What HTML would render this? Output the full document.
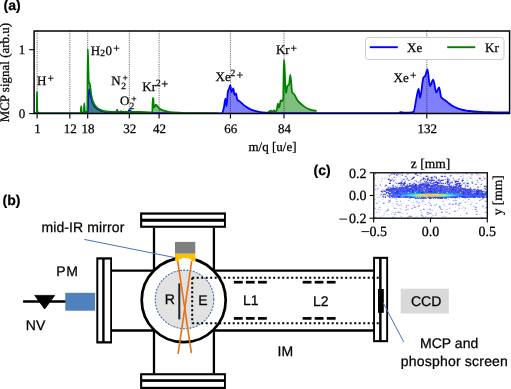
<!DOCTYPE html>
<html><head><meta charset="utf-8"><style>
html,body{margin:0;padding:0;background:#fff;width:511px;height:389px;overflow:hidden}
svg{display:block;will-change:transform;text-rendering:geometricPrecision}
text{stroke:#000;stroke-width:0.25px}
</style></head><body>
<svg width="511" height="389" viewBox="0 0 511 389">
<rect width="511" height="389" fill="#fff"/>
<text x="3.6" y="10.2" style="font-family:&quot;Liberation Sans&quot;,sans-serif;font-weight:bold;font-size:14px">(a)</text>
<text x="2.5" y="204.5" style="font-family:&quot;Liberation Sans&quot;,sans-serif;font-weight:bold;font-size:14px">(b)</text>
<text x="313.5" y="174.9" style="font-family:&quot;Liberation Sans&quot;,sans-serif;font-weight:bold;font-size:14px">(c)</text>
<clipPath id="ca"><rect x="34" y="31" width="475.6" height="82.6"/></clipPath>
<g clip-path="url(#ca)">
<path d="M34.00,113.6 L34.00,113.50 C51.33,113.50 68.67,113.50 86.00,113.50 C86.53,113.50 87.07,113.19 87.60,112.40 C87.87,112.00 88.13,97.86 88.40,95.00 C88.67,92.14 88.93,89.30 89.20,89.30 C89.47,89.30 89.73,90.93 90.00,92.00 C90.33,93.33 90.67,95.63 91.00,97.00 C91.33,98.37 91.67,99.42 92.00,100.50 C92.33,101.58 92.67,102.74 93.00,103.50 C93.67,105.02 94.33,106.23 95.00,107.00 C95.83,107.96 96.67,108.54 97.50,109.10 C98.33,109.66 99.17,110.17 100.00,110.50 C101.00,110.89 102.00,111.16 103.00,111.40 C104.00,111.64 105.00,111.89 106.00,112.00 C107.33,112.15 108.67,112.26 110.00,112.30 C111.67,112.35 113.33,112.40 115.00,112.40 C115.50,112.40 116.00,112.38 116.50,112.30 C116.70,112.27 116.90,109.80 117.10,109.80 C117.33,109.80 117.57,112.15 117.80,112.20 C118.53,112.36 119.27,112.40 120.00,112.40 C122.83,112.40 125.67,112.40 128.50,112.40 C128.70,112.40 128.90,109.80 129.10,109.80 C129.40,109.80 129.70,110.58 130.00,110.80 C130.67,111.28 131.33,111.60 132.00,111.80 C133.00,112.09 134.00,112.26 135.00,112.40 C136.67,112.63 138.33,112.82 140.00,112.90 C143.33,113.06 146.67,113.19 150.00,113.20 C174.00,113.28 198.00,113.30 222.00,113.30 C222.60,113.30 223.20,110.31 223.80,108.00 C224.37,105.82 224.93,98.60 225.50,98.60 C225.83,98.60 226.17,106.00 226.50,106.00 C227.00,106.00 227.50,92.60 228.00,91.00 C228.33,89.94 228.67,89.79 229.00,89.00 C229.43,87.98 229.87,85.20 230.30,85.20 C230.70,85.20 231.10,92.00 231.50,92.00 C232.10,92.00 232.70,88.50 233.30,88.50 C233.70,88.50 234.10,95.00 234.50,95.00 C235.00,95.00 235.50,93.50 236.00,93.50 C236.43,93.50 236.87,98.99 237.30,99.60 C238.20,100.86 239.10,100.88 240.00,101.60 C241.67,102.93 243.33,104.79 245.00,106.00 C246.67,107.21 248.33,108.34 250.00,109.10 C251.67,109.86 253.33,110.45 255.00,110.90 C257.33,111.54 259.67,112.17 262.00,112.40 C264.67,112.66 267.33,112.79 270.00,112.90 C273.33,113.04 276.67,113.20 280.00,113.20 C319.33,113.20 358.67,113.20 398.00,113.20 C398.83,113.20 399.67,112.10 400.50,112.10 C401.17,112.10 401.83,112.28 402.50,112.40 C403.00,112.49 403.50,112.70 404.00,112.70 C406.67,112.70 409.33,112.66 412.00,112.50 C412.57,112.47 413.13,112.05 413.70,111.50 C414.73,110.49 415.77,100.51 416.80,96.00 C417.40,93.38 418.00,88.90 418.60,88.90 C419.07,88.90 419.53,98.00 420.00,98.00 C421.17,98.00 422.33,79.25 423.50,77.50 C424.07,76.65 424.63,76.68 425.20,75.90 C425.97,74.84 426.73,69.30 427.50,69.30 C428.30,69.30 429.10,86.00 429.90,86.00 C431.00,86.00 432.10,79.70 433.20,79.70 C434.23,79.70 435.27,92.40 436.30,92.40 C437.23,92.40 438.17,87.40 439.10,87.40 C439.80,87.40 440.50,96.22 441.20,97.30 C441.80,98.23 442.40,98.54 443.00,99.00 C443.67,99.52 444.33,99.83 445.00,100.30 C446.00,101.00 447.00,101.82 448.00,102.60 C449.00,103.38 450.00,104.31 451.00,105.00 C452.00,105.69 453.00,106.27 454.00,106.80 C455.00,107.33 456.00,107.81 457.00,108.20 C458.00,108.59 459.00,108.90 460.00,109.20 C461.00,109.50 462.00,109.77 463.00,110.00 C464.00,110.23 465.00,110.44 466.00,110.60 C467.00,110.76 468.00,110.88 469.00,111.00 C470.67,111.19 472.33,111.37 474.00,111.50 C476.00,111.66 478.00,111.81 480.00,111.90 C483.33,112.04 486.67,112.12 490.00,112.20 C493.33,112.28 496.67,112.35 500.00,112.40 C503.20,112.44 506.40,112.47 509.60,112.50 L509.60,113.6 Z" fill="#0000ff" fill-opacity="0.5"/>
<path d="M34.00,113.6 L34.00,113.40 C34.92,113.40 35.83,113.40 36.75,113.40 C36.83,113.40 36.92,91.60 37.00,91.60 C37.08,91.60 37.17,110.06 37.25,110.50 C37.60,112.35 37.95,112.57 38.30,112.80 C38.87,113.17 39.43,113.40 40.00,113.40 C53.53,113.40 67.07,113.40 80.60,113.40 C80.80,113.40 81.00,106.10 81.20,106.10 C81.40,106.10 81.60,112.80 81.80,112.80 C82.43,112.80 83.07,112.80 83.70,112.80 C83.90,112.80 84.10,103.30 84.30,103.30 C84.50,103.30 84.70,111.90 84.90,111.90 C85.70,111.90 86.50,111.90 87.30,111.90 C87.47,111.90 87.63,49.10 87.80,49.10 C87.97,49.10 88.13,60.35 88.30,66.00 C88.47,71.65 88.63,83.00 88.80,83.00 C88.97,83.00 89.13,82.30 89.30,82.30 C89.60,82.30 89.90,84.32 90.20,86.00 C90.50,87.68 90.80,92.04 91.10,93.90 C91.40,95.76 91.70,97.00 92.00,98.20 C92.30,99.40 92.60,100.44 92.90,101.30 C93.27,102.36 93.63,103.32 94.00,104.00 C94.43,104.80 94.87,105.38 95.30,105.90 C96.03,106.79 96.77,107.53 97.50,108.10 C98.30,108.72 99.10,109.21 99.90,109.60 C100.93,110.10 101.97,110.52 103.00,110.80 C104.13,111.11 105.27,111.36 106.40,111.50 C107.93,111.69 109.47,111.82 111.00,111.90 C112.67,111.99 114.33,112.10 116.00,112.10 C116.33,112.10 116.67,110.90 117.00,110.90 C117.33,110.90 117.67,111.76 118.00,111.80 C118.67,111.87 119.33,111.90 120.00,111.90 C120.33,111.90 120.67,111.10 121.00,111.10 C121.33,111.10 121.67,111.89 122.00,111.90 C124.67,111.99 127.33,112.00 130.00,112.00 C133.33,112.00 136.67,112.00 140.00,112.00 C143.33,112.00 146.67,112.30 150.00,112.30 C150.77,112.30 151.53,112.30 152.30,112.30 C152.47,112.30 152.63,97.80 152.80,97.80 C152.97,97.80 153.13,98.33 153.30,99.00 C153.50,99.80 153.70,107.50 153.90,107.50 C154.60,107.50 155.30,104.70 156.00,104.70 C156.67,104.70 157.33,106.29 158.00,107.00 C158.67,107.71 159.33,108.59 160.00,109.00 C161.00,109.62 162.00,109.95 163.00,110.30 C164.00,110.65 165.00,110.94 166.00,111.20 C167.33,111.55 168.67,111.96 170.00,112.10 C173.33,112.44 176.67,112.54 180.00,112.70 C183.33,112.86 186.67,113.05 190.00,113.10 C199.33,113.23 208.67,113.23 218.00,113.30 L218.00,113.6 Z" fill="#008000" fill-opacity="0.5"/>
<path d="M268.00,113.6 L268.00,112.30 C269.00,111.77 270.00,110.70 271.00,110.70 C271.33,110.70 271.67,112.00 272.00,112.00 C272.67,112.00 273.33,110.50 274.00,110.50 C274.33,110.50 274.67,112.00 275.00,112.00 C275.60,112.00 276.20,111.18 276.80,110.00 C277.17,109.28 277.53,103.60 277.90,103.60 C278.33,103.60 278.77,107.50 279.20,107.50 C279.70,107.50 280.20,100.40 280.70,100.40 C281.13,100.40 281.57,101.20 282.00,101.20 C282.40,101.20 282.80,100.48 283.20,98.80 C283.43,97.82 283.67,59.80 283.90,59.80 C284.10,59.80 284.30,63.34 284.50,66.00 C284.93,71.76 285.37,93.20 285.80,93.20 C286.33,93.20 286.87,86.83 287.40,86.00 C287.93,85.17 288.47,85.41 289.00,84.50 C289.43,83.76 289.87,74.90 290.30,74.90 C290.93,74.90 291.57,91.38 292.20,92.40 C292.80,93.37 293.40,93.32 294.00,94.00 C295.33,95.52 296.67,99.60 298.00,101.20 C299.67,103.20 301.33,104.36 303.00,105.60 C304.67,106.84 306.33,108.05 308.00,108.80 C309.33,109.40 310.67,109.91 312.00,110.20 C313.53,110.53 315.07,110.67 316.60,110.90 L316.60,113.6 Z" fill="#008000" fill-opacity="0.5"/>
<line x1="37.1" y1="31" x2="37.1" y2="113.6" stroke="#000" stroke-width="1" stroke-opacity="0.6" stroke-dasharray="1.1,1.1"/>
<line x1="69.8" y1="31" x2="69.8" y2="113.6" stroke="#000" stroke-width="1" stroke-opacity="0.6" stroke-dasharray="1.1,1.1"/>
<line x1="87.7" y1="31" x2="87.7" y2="113.6" stroke="#000" stroke-width="1" stroke-opacity="0.6" stroke-dasharray="1.1,1.1"/>
<line x1="129.3" y1="31" x2="129.3" y2="113.6" stroke="#000" stroke-width="1" stroke-opacity="0.6" stroke-dasharray="1.1,1.1"/>
<line x1="159.1" y1="31" x2="159.1" y2="113.6" stroke="#000" stroke-width="1" stroke-opacity="0.6" stroke-dasharray="1.1,1.1"/>
<line x1="230.4" y1="31" x2="230.4" y2="113.6" stroke="#000" stroke-width="1" stroke-opacity="0.6" stroke-dasharray="1.1,1.1"/>
<line x1="284.0" y1="31" x2="284.0" y2="113.6" stroke="#000" stroke-width="1" stroke-opacity="0.6" stroke-dasharray="1.1,1.1"/>
<line x1="426.8" y1="31" x2="426.8" y2="113.6" stroke="#000" stroke-width="1" stroke-opacity="0.6" stroke-dasharray="1.1,1.1"/>
<path d="M34.00,113.50 C51.33,113.50 68.67,113.50 86.00,113.50 C86.53,113.50 87.07,113.19 87.60,112.40 C87.87,112.00 88.13,97.86 88.40,95.00 C88.67,92.14 88.93,89.30 89.20,89.30 C89.47,89.30 89.73,90.93 90.00,92.00 C90.33,93.33 90.67,95.63 91.00,97.00 C91.33,98.37 91.67,99.42 92.00,100.50 C92.33,101.58 92.67,102.74 93.00,103.50 C93.67,105.02 94.33,106.23 95.00,107.00 C95.83,107.96 96.67,108.54 97.50,109.10 C98.33,109.66 99.17,110.17 100.00,110.50 C101.00,110.89 102.00,111.16 103.00,111.40 C104.00,111.64 105.00,111.89 106.00,112.00 C107.33,112.15 108.67,112.26 110.00,112.30 C111.67,112.35 113.33,112.40 115.00,112.40 C115.50,112.40 116.00,112.38 116.50,112.30 C116.70,112.27 116.90,109.80 117.10,109.80 C117.33,109.80 117.57,112.15 117.80,112.20 C118.53,112.36 119.27,112.40 120.00,112.40 C122.83,112.40 125.67,112.40 128.50,112.40 C128.70,112.40 128.90,109.80 129.10,109.80 C129.40,109.80 129.70,110.58 130.00,110.80 C130.67,111.28 131.33,111.60 132.00,111.80 C133.00,112.09 134.00,112.26 135.00,112.40 C136.67,112.63 138.33,112.82 140.00,112.90 C143.33,113.06 146.67,113.19 150.00,113.20 C174.00,113.28 198.00,113.30 222.00,113.30 C222.60,113.30 223.20,110.31 223.80,108.00 C224.37,105.82 224.93,98.60 225.50,98.60 C225.83,98.60 226.17,106.00 226.50,106.00 C227.00,106.00 227.50,92.60 228.00,91.00 C228.33,89.94 228.67,89.79 229.00,89.00 C229.43,87.98 229.87,85.20 230.30,85.20 C230.70,85.20 231.10,92.00 231.50,92.00 C232.10,92.00 232.70,88.50 233.30,88.50 C233.70,88.50 234.10,95.00 234.50,95.00 C235.00,95.00 235.50,93.50 236.00,93.50 C236.43,93.50 236.87,98.99 237.30,99.60 C238.20,100.86 239.10,100.88 240.00,101.60 C241.67,102.93 243.33,104.79 245.00,106.00 C246.67,107.21 248.33,108.34 250.00,109.10 C251.67,109.86 253.33,110.45 255.00,110.90 C257.33,111.54 259.67,112.17 262.00,112.40 C264.67,112.66 267.33,112.79 270.00,112.90 C273.33,113.04 276.67,113.20 280.00,113.20 C319.33,113.20 358.67,113.20 398.00,113.20 C398.83,113.20 399.67,112.10 400.50,112.10 C401.17,112.10 401.83,112.28 402.50,112.40 C403.00,112.49 403.50,112.70 404.00,112.70 C406.67,112.70 409.33,112.66 412.00,112.50 C412.57,112.47 413.13,112.05 413.70,111.50 C414.73,110.49 415.77,100.51 416.80,96.00 C417.40,93.38 418.00,88.90 418.60,88.90 C419.07,88.90 419.53,98.00 420.00,98.00 C421.17,98.00 422.33,79.25 423.50,77.50 C424.07,76.65 424.63,76.68 425.20,75.90 C425.97,74.84 426.73,69.30 427.50,69.30 C428.30,69.30 429.10,86.00 429.90,86.00 C431.00,86.00 432.10,79.70 433.20,79.70 C434.23,79.70 435.27,92.40 436.30,92.40 C437.23,92.40 438.17,87.40 439.10,87.40 C439.80,87.40 440.50,96.22 441.20,97.30 C441.80,98.23 442.40,98.54 443.00,99.00 C443.67,99.52 444.33,99.83 445.00,100.30 C446.00,101.00 447.00,101.82 448.00,102.60 C449.00,103.38 450.00,104.31 451.00,105.00 C452.00,105.69 453.00,106.27 454.00,106.80 C455.00,107.33 456.00,107.81 457.00,108.20 C458.00,108.59 459.00,108.90 460.00,109.20 C461.00,109.50 462.00,109.77 463.00,110.00 C464.00,110.23 465.00,110.44 466.00,110.60 C467.00,110.76 468.00,110.88 469.00,111.00 C470.67,111.19 472.33,111.37 474.00,111.50 C476.00,111.66 478.00,111.81 480.00,111.90 C483.33,112.04 486.67,112.12 490.00,112.20 C493.33,112.28 496.67,112.35 500.00,112.40 C503.20,112.44 506.40,112.47 509.60,112.50" fill="none" stroke="#0000ff" stroke-width="1.8" stroke-linejoin="round"/>
<path d="M34.00,113.40 C34.92,113.40 35.83,113.40 36.75,113.40 C36.83,113.40 36.92,91.60 37.00,91.60 C37.08,91.60 37.17,110.06 37.25,110.50 C37.60,112.35 37.95,112.57 38.30,112.80 C38.87,113.17 39.43,113.40 40.00,113.40 C53.53,113.40 67.07,113.40 80.60,113.40 C80.80,113.40 81.00,106.10 81.20,106.10 C81.40,106.10 81.60,112.80 81.80,112.80 C82.43,112.80 83.07,112.80 83.70,112.80 C83.90,112.80 84.10,103.30 84.30,103.30 C84.50,103.30 84.70,111.90 84.90,111.90 C85.70,111.90 86.50,111.90 87.30,111.90 C87.47,111.90 87.63,49.10 87.80,49.10 C87.97,49.10 88.13,60.35 88.30,66.00 C88.47,71.65 88.63,83.00 88.80,83.00 C88.97,83.00 89.13,82.30 89.30,82.30 C89.60,82.30 89.90,84.32 90.20,86.00 C90.50,87.68 90.80,92.04 91.10,93.90 C91.40,95.76 91.70,97.00 92.00,98.20 C92.30,99.40 92.60,100.44 92.90,101.30 C93.27,102.36 93.63,103.32 94.00,104.00 C94.43,104.80 94.87,105.38 95.30,105.90 C96.03,106.79 96.77,107.53 97.50,108.10 C98.30,108.72 99.10,109.21 99.90,109.60 C100.93,110.10 101.97,110.52 103.00,110.80 C104.13,111.11 105.27,111.36 106.40,111.50 C107.93,111.69 109.47,111.82 111.00,111.90 C112.67,111.99 114.33,112.10 116.00,112.10 C116.33,112.10 116.67,110.90 117.00,110.90 C117.33,110.90 117.67,111.76 118.00,111.80 C118.67,111.87 119.33,111.90 120.00,111.90 C120.33,111.90 120.67,111.10 121.00,111.10 C121.33,111.10 121.67,111.89 122.00,111.90 C124.67,111.99 127.33,112.00 130.00,112.00 C133.33,112.00 136.67,112.00 140.00,112.00 C143.33,112.00 146.67,112.30 150.00,112.30 C150.77,112.30 151.53,112.30 152.30,112.30 C152.47,112.30 152.63,97.80 152.80,97.80 C152.97,97.80 153.13,98.33 153.30,99.00 C153.50,99.80 153.70,107.50 153.90,107.50 C154.60,107.50 155.30,104.70 156.00,104.70 C156.67,104.70 157.33,106.29 158.00,107.00 C158.67,107.71 159.33,108.59 160.00,109.00 C161.00,109.62 162.00,109.95 163.00,110.30 C164.00,110.65 165.00,110.94 166.00,111.20 C167.33,111.55 168.67,111.96 170.00,112.10 C173.33,112.44 176.67,112.54 180.00,112.70 C183.33,112.86 186.67,113.05 190.00,113.10 C199.33,113.23 208.67,113.23 218.00,113.30" fill="none" stroke="#008000" stroke-width="1.8" stroke-linejoin="round"/>
<path d="M268.00,112.30 C269.00,111.77 270.00,110.70 271.00,110.70 C271.33,110.70 271.67,112.00 272.00,112.00 C272.67,112.00 273.33,110.50 274.00,110.50 C274.33,110.50 274.67,112.00 275.00,112.00 C275.60,112.00 276.20,111.18 276.80,110.00 C277.17,109.28 277.53,103.60 277.90,103.60 C278.33,103.60 278.77,107.50 279.20,107.50 C279.70,107.50 280.20,100.40 280.70,100.40 C281.13,100.40 281.57,101.20 282.00,101.20 C282.40,101.20 282.80,100.48 283.20,98.80 C283.43,97.82 283.67,59.80 283.90,59.80 C284.10,59.80 284.30,63.34 284.50,66.00 C284.93,71.76 285.37,93.20 285.80,93.20 C286.33,93.20 286.87,86.83 287.40,86.00 C287.93,85.17 288.47,85.41 289.00,84.50 C289.43,83.76 289.87,74.90 290.30,74.90 C290.93,74.90 291.57,91.38 292.20,92.40 C292.80,93.37 293.40,93.32 294.00,94.00 C295.33,95.52 296.67,99.60 298.00,101.20 C299.67,103.20 301.33,104.36 303.00,105.60 C304.67,106.84 306.33,108.05 308.00,108.80 C309.33,109.40 310.67,109.91 312.00,110.20 C313.53,110.53 315.07,110.67 316.60,110.90" fill="none" stroke="#008000" stroke-width="1.8" stroke-linejoin="round"/>
</g>
<rect x="365.5" y="37.5" width="138.5" height="22" rx="3" fill="#fff" fill-opacity="0.95" stroke="#ccc" stroke-width="1"/>
<line x1="369.8" y1="47.2" x2="397.8" y2="47.2" stroke="#0000ff" stroke-width="1.9"/>
<line x1="447.2" y1="47.2" x2="475.2" y2="47.2" stroke="#008000" stroke-width="1.9"/>
<text x="407" y="52" style="font-family:&quot;Liberation Serif&quot;,serif;font-size:13px">Xe</text>
<text x="485" y="52" style="font-family:&quot;Liberation Serif&quot;,serif;font-size:13px">Kr</text>
<rect x="34.1" y="31" width="475.5" height="82.5" fill="none" stroke="#000" stroke-width="1.5"/>
<line x1="37.1" y1="113.6" x2="37.1" y2="118.4" stroke="#000" stroke-width="1.1"/>
<text x="37.5" y="133" text-anchor="middle" style="font-family:&quot;Liberation Serif&quot;,serif;font-size:13px">1</text>
<line x1="69.8" y1="113.6" x2="69.8" y2="118.4" stroke="#000" stroke-width="1.1"/>
<text x="70.2" y="133" text-anchor="middle" style="font-family:&quot;Liberation Serif&quot;,serif;font-size:13px">12</text>
<line x1="87.7" y1="113.6" x2="87.7" y2="118.4" stroke="#000" stroke-width="1.1"/>
<text x="88.1" y="133" text-anchor="middle" style="font-family:&quot;Liberation Serif&quot;,serif;font-size:13px">18</text>
<line x1="129.3" y1="113.6" x2="129.3" y2="118.4" stroke="#000" stroke-width="1.1"/>
<text x="129.7" y="133" text-anchor="middle" style="font-family:&quot;Liberation Serif&quot;,serif;font-size:13px">32</text>
<line x1="159.1" y1="113.6" x2="159.1" y2="118.4" stroke="#000" stroke-width="1.1"/>
<text x="159.5" y="133" text-anchor="middle" style="font-family:&quot;Liberation Serif&quot;,serif;font-size:13px">42</text>
<line x1="230.4" y1="113.6" x2="230.4" y2="118.4" stroke="#000" stroke-width="1.1"/>
<text x="230.8" y="133" text-anchor="middle" style="font-family:&quot;Liberation Serif&quot;,serif;font-size:13px">66</text>
<line x1="284.0" y1="113.6" x2="284.0" y2="118.4" stroke="#000" stroke-width="1.1"/>
<text x="284.4" y="133" text-anchor="middle" style="font-family:&quot;Liberation Serif&quot;,serif;font-size:13px">84</text>
<line x1="426.8" y1="113.6" x2="426.8" y2="118.4" stroke="#000" stroke-width="1.1"/>
<text x="427.2" y="133" text-anchor="middle" style="font-family:&quot;Liberation Serif&quot;,serif;font-size:13px">132</text>
<line x1="29.2" y1="113.6" x2="34" y2="113.6" stroke="#000" stroke-width="1.1"/>
<text x="25.3" y="117.9" text-anchor="end" style="font-family:&quot;Liberation Serif&quot;,serif;font-size:13px">0</text>
<line x1="29.2" y1="49.7" x2="34" y2="49.7" stroke="#000" stroke-width="1.1"/>
<text x="25.3" y="54.0" text-anchor="end" style="font-family:&quot;Liberation Serif&quot;,serif;font-size:13px">1</text>
<text x="272.5" y="150.5" text-anchor="middle" style="font-family:&quot;Liberation Serif&quot;,serif;font-size:13px">m/q [u/e]</text>
<text transform="translate(9.3,72.6) rotate(-90)" text-anchor="middle" style="font-family:&quot;Liberation Serif&quot;,serif;font-size:13px">MCP signal (arb.u)</text>
<text x="36.9" y="84.6" text-anchor="start" style="font-family:&quot;Liberation Serif&quot;,serif;font-size:13px">H</text>
<text x="47.6" y="81.6" text-anchor="start" style="font-family:&quot;Liberation Serif&quot;,serif;font-size:11.5px">+</text>
<text x="90.8" y="54.9" text-anchor="start" style="font-family:&quot;Liberation Serif&quot;,serif;font-size:13px">H</text>
<text x="100.2" y="56.4" text-anchor="start" style="font-family:&quot;Liberation Serif&quot;,serif;font-size:9.5px">2</text>
<text x="105.5" y="54.9" text-anchor="start" style="font-family:&quot;Liberation Serif&quot;,serif;font-size:13px">0</text>
<text x="113.3" y="51.6" text-anchor="start" style="font-family:&quot;Liberation Serif&quot;,serif;font-size:11.5px">+</text>
<text x="111.2" y="85.2" text-anchor="start" style="font-family:&quot;Liberation Serif&quot;,serif;font-size:13px">N</text>
<text x="121.2" y="89" text-anchor="start" style="font-family:&quot;Liberation Serif&quot;,serif;font-size:9.5px">2</text>
<text x="122.5" y="81.3" text-anchor="start" style="font-family:&quot;Liberation Serif&quot;,serif;font-size:9.5px">+</text>
<text x="119.9" y="105.0" text-anchor="start" style="font-family:&quot;Liberation Serif&quot;,serif;font-size:13px">O</text>
<text x="129.5" y="108.6" text-anchor="start" style="font-family:&quot;Liberation Serif&quot;,serif;font-size:9.5px">2</text>
<text x="131.2" y="101.8" text-anchor="start" style="font-family:&quot;Liberation Serif&quot;,serif;font-size:9.5px">+</text>
<text x="142.3" y="90.9" text-anchor="start" style="font-family:&quot;Liberation Serif&quot;,serif;font-size:13px">Kr</text>
<text x="156.1" y="86.3" text-anchor="start" style="font-family:&quot;Liberation Serif&quot;,serif;font-size:9.5px">2</text>
<text x="161.2" y="87.7" text-anchor="start" style="font-family:&quot;Liberation Serif&quot;,serif;font-size:12.5px">+</text>
<text x="215.6" y="80.9" text-anchor="start" style="font-family:&quot;Liberation Serif&quot;,serif;font-size:13px">Xe</text>
<text x="230.5" y="76.4" text-anchor="start" style="font-family:&quot;Liberation Serif&quot;,serif;font-size:9.5px">2</text>
<text x="236.5" y="79.1" text-anchor="start" style="font-family:&quot;Liberation Serif&quot;,serif;font-size:12px">+</text>
<text x="275.9" y="53.9" text-anchor="start" style="font-family:&quot;Liberation Serif&quot;,serif;font-size:13px">Kr</text>
<text x="290.4" y="51.6" text-anchor="start" style="font-family:&quot;Liberation Serif&quot;,serif;font-size:11.5px">+</text>
<text x="393.5" y="82" text-anchor="start" style="font-family:&quot;Liberation Serif&quot;,serif;font-size:13px">Xe</text>
<text x="410.1" y="79.2" text-anchor="start" style="font-family:&quot;Liberation Serif&quot;,serif;font-size:11.5px">+</text>
<filter id="bl" x="0" y="0" width="1" height="1"><feGaussianBlur stdDeviation="0.55"/></filter>
<clipPath id="ci"><rect x="373.8" y="172.8" width="113.5" height="45.4"/></clipPath>
<g clip-path="url(#ci)"><g filter="url(#bl)"><rect x="374.8" y="172.8" width="1" height="1" fill="#9696fa"/><rect x="387.8" y="172.8" width="1" height="1" fill="#c8c8fc"/><rect x="390.8" y="172.8" width="2" height="1" fill="#c8c8fc"/><rect x="392.8" y="172.8" width="2" height="1" fill="#afaffa"/><rect x="394.8" y="172.8" width="1" height="1" fill="#c8c8fc"/><rect x="396.8" y="172.8" width="1" height="1" fill="#7878f5"/><rect x="398.8" y="172.8" width="1" height="1" fill="#c8c8fc"/><rect x="400.8" y="172.8" width="2" height="1" fill="#9696fa"/><rect x="406.8" y="172.8" width="2" height="1" fill="#c8c8fc"/><rect x="414.8" y="172.8" width="2" height="1" fill="#141eeb"/><rect x="419.8" y="172.8" width="2" height="1" fill="#afaffa"/><rect x="430.8" y="172.8" width="1" height="1" fill="#d7d7fd"/><rect x="444.8" y="172.8" width="1" height="1" fill="#3c46f5"/><rect x="465.8" y="172.8" width="1" height="1" fill="#141eeb"/><rect x="466.8" y="172.8" width="1" height="1" fill="#d7d7fd"/><rect x="475.8" y="172.8" width="2" height="1" fill="#7878f5"/><rect x="477.8" y="172.8" width="1" height="1" fill="#d7d7fd"/><rect x="374.8" y="173.8" width="1" height="1" fill="#9696fa"/><rect x="390.8" y="173.8" width="2" height="1" fill="#9696fa"/><rect x="393.8" y="173.8" width="1" height="1" fill="#0000dc"/><rect x="395.8" y="173.8" width="1" height="1" fill="#6464fa"/><rect x="396.8" y="173.8" width="2" height="1" fill="#9696fa"/><rect x="398.8" y="173.8" width="2" height="1" fill="#c8c8fc"/><rect x="400.8" y="173.8" width="1" height="1" fill="#d7d7fd"/><rect x="406.8" y="173.8" width="2" height="1" fill="#9696fa"/><rect x="414.8" y="173.8" width="2" height="1" fill="#6464fa"/><rect x="419.8" y="173.8" width="2" height="1" fill="#afaffa"/><rect x="456.8" y="173.8" width="2" height="1" fill="#c8c8fc"/><rect x="462.8" y="173.8" width="1" height="1" fill="#d7d7fd"/><rect x="466.8" y="173.8" width="1" height="1" fill="#d7d7fd"/><rect x="470.8" y="173.8" width="2" height="1" fill="#9696fa"/><rect x="476.8" y="173.8" width="2" height="1" fill="#c8c8fc"/><rect x="388.8" y="174.8" width="2" height="1" fill="#9696fa"/><rect x="395.8" y="174.8" width="2" height="1" fill="#7878f5"/><rect x="399.8" y="174.8" width="1" height="1" fill="#d7d7fd"/><rect x="401.8" y="174.8" width="1" height="1" fill="#141eeb"/><rect x="416.8" y="174.8" width="1" height="1" fill="#0000dc"/><rect x="417.8" y="174.8" width="2" height="1" fill="#c8c8fc"/><rect x="426.8" y="174.8" width="1" height="1" fill="#d7d7fd"/><rect x="449.8" y="174.8" width="2" height="1" fill="#7878f5"/><rect x="462.8" y="174.8" width="1" height="1" fill="#c8c8fc"/><rect x="470.8" y="174.8" width="2" height="1" fill="#d7d7fd"/><rect x="475.8" y="174.8" width="2" height="1" fill="#d7d7fd"/><rect x="478.8" y="174.8" width="1" height="1" fill="#c8c8fc"/><rect x="479.8" y="174.8" width="1" height="1" fill="#d7d7fd"/><rect x="388.8" y="175.8" width="1" height="1" fill="#9696fa"/><rect x="398.8" y="175.8" width="2" height="1" fill="#d7d7fd"/><rect x="404.8" y="175.8" width="2" height="1" fill="#6464fa"/><rect x="418.8" y="175.8" width="3" height="1" fill="#d7d7fd"/><rect x="424.8" y="175.8" width="1" height="1" fill="#afaffa"/><rect x="425.8" y="175.8" width="2" height="1" fill="#141eeb"/><rect x="433.8" y="175.8" width="2" height="1" fill="#6464fa"/><rect x="440.8" y="175.8" width="2" height="1" fill="#0000dc"/><rect x="443.8" y="175.8" width="2" height="1" fill="#3c46f5"/><rect x="449.8" y="175.8" width="1" height="1" fill="#7878f5"/><rect x="459.8" y="175.8" width="2" height="1" fill="#afaffa"/><rect x="462.8" y="175.8" width="1" height="1" fill="#c8c8fc"/><rect x="468.8" y="175.8" width="1" height="1" fill="#c8c8fc"/><rect x="470.8" y="175.8" width="1" height="1" fill="#d7d7fd"/><rect x="482.8" y="175.8" width="1" height="1" fill="#c8c8fc"/><rect x="386.8" y="176.8" width="1" height="1" fill="#d7d7fd"/><rect x="392.8" y="176.8" width="1" height="1" fill="#d7d7fd"/><rect x="393.8" y="176.8" width="1" height="1" fill="#6464fa"/><rect x="395.8" y="176.8" width="1" height="1" fill="#afaffa"/><rect x="404.8" y="176.8" width="1" height="1" fill="#d7d7fd"/><rect x="412.8" y="176.8" width="2" height="1" fill="#141eeb"/><rect x="422.8" y="176.8" width="1" height="1" fill="#afaffa"/><rect x="427.8" y="176.8" width="2" height="1" fill="#afaffa"/><rect x="430.8" y="176.8" width="2" height="1" fill="#0000dc"/><rect x="433.8" y="176.8" width="1" height="1" fill="#6464fa"/><rect x="434.8" y="176.8" width="1" height="1" fill="#d7d7fd"/><rect x="435.8" y="176.8" width="1" height="1" fill="#141eeb"/><rect x="446.8" y="176.8" width="1" height="1" fill="#9696fa"/><rect x="469.8" y="176.8" width="1" height="1" fill="#c8c8fc"/><rect x="482.8" y="176.8" width="1" height="1" fill="#c8c8fc"/><rect x="373.8" y="177.8" width="1" height="1" fill="#7878f5"/><rect x="381.8" y="177.8" width="1" height="1" fill="#afaffa"/><rect x="383.8" y="177.8" width="2" height="1" fill="#c8c8fc"/><rect x="386.8" y="177.8" width="1" height="1" fill="#d7d7fd"/><rect x="399.8" y="177.8" width="2" height="1" fill="#d7d7fd"/><rect x="404.8" y="177.8" width="1" height="1" fill="#d7d7fd"/><rect x="406.8" y="177.8" width="1" height="1" fill="#141eeb"/><rect x="411.8" y="177.8" width="2" height="1" fill="#141eeb"/><rect x="420.8" y="177.8" width="2" height="1" fill="#d7d7fd"/><rect x="422.8" y="177.8" width="2" height="1" fill="#0000dc"/><rect x="426.8" y="177.8" width="2" height="1" fill="#6464fa"/><rect x="430.8" y="177.8" width="1" height="1" fill="#141eeb"/><rect x="431.8" y="177.8" width="2" height="1" fill="#afaffa"/><rect x="435.8" y="177.8" width="1" height="1" fill="#141eeb"/><rect x="446.8" y="177.8" width="1" height="1" fill="#9696fa"/><rect x="447.8" y="177.8" width="1" height="1" fill="#d7d7fd"/><rect x="452.8" y="177.8" width="1" height="1" fill="#3c46f5"/><rect x="461.8" y="177.8" width="2" height="1" fill="#afaffa"/><rect x="465.8" y="177.8" width="2" height="1" fill="#d7d7fd"/><rect x="469.8" y="177.8" width="2" height="1" fill="#9696fa"/><rect x="478.8" y="177.8" width="2" height="1" fill="#0000dc"/><rect x="483.8" y="177.8" width="2" height="1" fill="#9696fa"/><rect x="373.8" y="178.8" width="1" height="1" fill="#7878f5"/><rect x="381.8" y="178.8" width="1" height="1" fill="#afaffa"/><rect x="387.8" y="178.8" width="2" height="1" fill="#0000dc"/><rect x="391.8" y="178.8" width="1" height="1" fill="#7878f5"/><rect x="394.8" y="178.8" width="2" height="1" fill="#d7d7fd"/><rect x="399.8" y="178.8" width="1" height="1" fill="#d7d7fd"/><rect x="402.8" y="178.8" width="2" height="1" fill="#6464fa"/><rect x="405.8" y="178.8" width="2" height="1" fill="#afaffa"/><rect x="410.8" y="178.8" width="1" height="1" fill="#3c46f5"/><rect x="411.8" y="178.8" width="1" height="1" fill="#7878f5"/><rect x="420.8" y="178.8" width="2" height="1" fill="#afaffa"/><rect x="422.8" y="178.8" width="1" height="1" fill="#0000dc"/><rect x="424.8" y="178.8" width="1" height="1" fill="#141eeb"/><rect x="426.8" y="178.8" width="2" height="1" fill="#141eeb"/><rect x="430.8" y="178.8" width="2" height="1" fill="#7878f5"/><rect x="437.8" y="178.8" width="2" height="1" fill="#6464fa"/><rect x="444.8" y="178.8" width="1" height="1" fill="#7878f5"/><rect x="446.8" y="178.8" width="2" height="1" fill="#141eeb"/><rect x="448.8" y="178.8" width="1" height="1" fill="#7878f5"/><rect x="455.8" y="178.8" width="1" height="1" fill="#d7d7fd"/><rect x="457.8" y="178.8" width="2" height="1" fill="#7878f5"/><rect x="461.8" y="178.8" width="1" height="1" fill="#afaffa"/><rect x="478.8" y="178.8" width="2" height="1" fill="#d7d7fd"/><rect x="483.8" y="178.8" width="1" height="1" fill="#9696fa"/><rect x="389.8" y="179.8" width="2" height="1" fill="#141eeb"/><rect x="392.8" y="179.8" width="2" height="1" fill="#7878f5"/><rect x="400.8" y="179.8" width="2" height="1" fill="#afaffa"/><rect x="407.8" y="179.8" width="2" height="1" fill="#6464fa"/><rect x="413.8" y="179.8" width="2" height="1" fill="#afaffa"/><rect x="419.8" y="179.8" width="2" height="1" fill="#6464fa"/><rect x="422.8" y="179.8" width="1" height="1" fill="#d7d7fd"/><rect x="424.8" y="179.8" width="1" height="1" fill="#d7d7fd"/><rect x="426.8" y="179.8" width="1" height="1" fill="#141eeb"/><rect x="428.8" y="179.8" width="2" height="1" fill="#0000dc"/><rect x="430.8" y="179.8" width="4" height="1" fill="#141eeb"/><rect x="435.8" y="179.8" width="1" height="1" fill="#afaffa"/><rect x="437.8" y="179.8" width="1" height="1" fill="#0000dc"/><rect x="438.8" y="179.8" width="2" height="1" fill="#7878f5"/><rect x="440.8" y="179.8" width="2" height="1" fill="#0000dc"/><rect x="442.8" y="179.8" width="1" height="1" fill="#141eeb"/><rect x="446.8" y="179.8" width="2" height="1" fill="#6464fa"/><rect x="448.8" y="179.8" width="1" height="1" fill="#7878f5"/><rect x="451.8" y="179.8" width="2" height="1" fill="#d7d7fd"/><rect x="453.8" y="179.8" width="1" height="1" fill="#6464fa"/><rect x="454.8" y="179.8" width="1" height="1" fill="#c8c8fc"/><rect x="461.8" y="179.8" width="2" height="1" fill="#141eeb"/><rect x="466.8" y="179.8" width="1" height="1" fill="#7878f5"/><rect x="476.8" y="179.8" width="1" height="1" fill="#3c46f5"/><rect x="480.8" y="179.8" width="2" height="1" fill="#9696fa"/><rect x="380.8" y="180.8" width="1" height="1" fill="#afaffa"/><rect x="389.8" y="180.8" width="1" height="1" fill="#141eeb"/><rect x="392.8" y="180.8" width="1" height="1" fill="#7878f5"/><rect x="401.8" y="180.8" width="1" height="1" fill="#7878f5"/><rect x="404.8" y="180.8" width="1" height="1" fill="#3c46f5"/><rect x="410.8" y="180.8" width="2" height="1" fill="#d7d7fd"/><rect x="415.8" y="180.8" width="1" height="1" fill="#0000dc"/><rect x="418.8" y="180.8" width="1" height="1" fill="#d7d7fd"/><rect x="419.8" y="180.8" width="1" height="1" fill="#6464fa"/><rect x="423.8" y="180.8" width="1" height="1" fill="#0000dc"/><rect x="424.8" y="180.8" width="1" height="1" fill="#d7d7fd"/><rect x="425.8" y="180.8" width="1" height="1" fill="#141eeb"/><rect x="430.8" y="180.8" width="1" height="1" fill="#3c46f5"/><rect x="435.8" y="180.8" width="1" height="1" fill="#0000dc"/><rect x="438.8" y="180.8" width="1" height="1" fill="#7878f5"/><rect x="439.8" y="180.8" width="1" height="1" fill="#3c46f5"/><rect x="446.8" y="180.8" width="2" height="1" fill="#141eeb"/><rect x="453.8" y="180.8" width="1" height="1" fill="#c8c8fc"/><rect x="454.8" y="180.8" width="4" height="1" fill="#0000dc"/><rect x="461.8" y="180.8" width="1" height="1" fill="#141eeb"/><rect x="470.8" y="180.8" width="2" height="1" fill="#d7d7fd"/><rect x="394.8" y="181.8" width="1" height="1" fill="#9696fa"/><rect x="399.8" y="181.8" width="1" height="1" fill="#9696fa"/><rect x="400.8" y="181.8" width="1" height="1" fill="#0000dc"/><rect x="402.8" y="181.8" width="1" height="1" fill="#c8c8fc"/><rect x="403.8" y="181.8" width="1" height="1" fill="#141eeb"/><rect x="417.8" y="181.8" width="1" height="1" fill="#141eeb"/><rect x="418.8" y="181.8" width="1" height="1" fill="#d7d7fd"/><rect x="419.8" y="181.8" width="2" height="1" fill="#afaffa"/><rect x="424.8" y="181.8" width="1" height="1" fill="#3c46f5"/><rect x="425.8" y="181.8" width="1" height="1" fill="#6464fa"/><rect x="426.8" y="181.8" width="2" height="1" fill="#3c46f5"/><rect x="428.8" y="181.8" width="1" height="1" fill="#9696fa"/><rect x="429.8" y="181.8" width="1" height="1" fill="#0000dc"/><rect x="432.8" y="181.8" width="2" height="1" fill="#3c46f5"/><rect x="434.8" y="181.8" width="4" height="1" fill="#0000dc"/><rect x="438.8" y="181.8" width="1" height="1" fill="#d7d7fd"/><rect x="439.8" y="181.8" width="1" height="1" fill="#3c46f5"/><rect x="445.8" y="181.8" width="1" height="1" fill="#6464fa"/><rect x="446.8" y="181.8" width="2" height="1" fill="#141eeb"/><rect x="449.8" y="181.8" width="2" height="1" fill="#3c46f5"/><rect x="451.8" y="181.8" width="1" height="1" fill="#0000dc"/><rect x="454.8" y="181.8" width="1" height="1" fill="#0000dc"/><rect x="455.8" y="181.8" width="1" height="1" fill="#afaffa"/><rect x="464.8" y="181.8" width="2" height="1" fill="#c8c8fc"/><rect x="470.8" y="181.8" width="1" height="1" fill="#d7d7fd"/><rect x="471.8" y="181.8" width="1" height="1" fill="#3c46f5"/><rect x="476.8" y="181.8" width="1" height="1" fill="#c8c8fc"/><rect x="477.8" y="181.8" width="1" height="1" fill="#afaffa"/><rect x="486.8" y="181.8" width="1" height="1" fill="#afaffa"/><rect x="388.8" y="182.8" width="2" height="1" fill="#0000dc"/><rect x="395.8" y="182.8" width="1" height="1" fill="#3c46f5"/><rect x="397.8" y="182.8" width="3" height="1" fill="#0000dc"/><rect x="400.8" y="182.8" width="2" height="1" fill="#141eeb"/><rect x="402.8" y="182.8" width="1" height="1" fill="#7878f5"/><rect x="403.8" y="182.8" width="2" height="1" fill="#0000dc"/><rect x="408.8" y="182.8" width="2" height="1" fill="#3c46f5"/><rect x="412.8" y="182.8" width="1" height="1" fill="#9696fa"/><rect x="413.8" y="182.8" width="1" height="1" fill="#141eeb"/><rect x="419.8" y="182.8" width="1" height="1" fill="#afaffa"/><rect x="421.8" y="182.8" width="1" height="1" fill="#0000dc"/><rect x="422.8" y="182.8" width="3" height="1" fill="#6464fa"/><rect x="425.8" y="182.8" width="1" height="1" fill="#3c46f5"/><rect x="426.8" y="182.8" width="2" height="1" fill="#6464fa"/><rect x="429.8" y="182.8" width="1" height="1" fill="#3c46f5"/><rect x="430.8" y="182.8" width="1" height="1" fill="#141eeb"/><rect x="431.8" y="182.8" width="2" height="1" fill="#3c46f5"/><rect x="433.8" y="182.8" width="1" height="1" fill="#7878f5"/><rect x="436.8" y="182.8" width="1" height="1" fill="#0000dc"/><rect x="437.8" y="182.8" width="2" height="1" fill="#141eeb"/><rect x="439.8" y="182.8" width="1" height="1" fill="#6464fa"/><rect x="440.8" y="182.8" width="2" height="1" fill="#3c46f5"/><rect x="442.8" y="182.8" width="1" height="1" fill="#0000dc"/><rect x="444.8" y="182.8" width="1" height="1" fill="#0000dc"/><rect x="446.8" y="182.8" width="1" height="1" fill="#141eeb"/><rect x="448.8" y="182.8" width="2" height="1" fill="#6464fa"/><rect x="451.8" y="182.8" width="1" height="1" fill="#9696fa"/><rect x="455.8" y="182.8" width="1" height="1" fill="#6464fa"/><rect x="456.8" y="182.8" width="4" height="1" fill="#141eeb"/><rect x="462.8" y="182.8" width="2" height="1" fill="#6464fa"/><rect x="465.8" y="182.8" width="1" height="1" fill="#c8c8fc"/><rect x="466.8" y="182.8" width="2" height="1" fill="#0000dc"/><rect x="471.8" y="182.8" width="1" height="1" fill="#3c46f5"/><rect x="481.8" y="182.8" width="1" height="1" fill="#c8c8fc"/><rect x="379.8" y="183.8" width="1" height="1" fill="#9696fa"/><rect x="392.8" y="183.8" width="2" height="1" fill="#d7d7fd"/><rect x="397.8" y="183.8" width="1" height="1" fill="#c8c8fc"/><rect x="400.8" y="183.8" width="1" height="1" fill="#141eeb"/><rect x="402.8" y="183.8" width="2" height="1" fill="#141eeb"/><rect x="406.8" y="183.8" width="1" height="1" fill="#6464fa"/><rect x="408.8" y="183.8" width="1" height="1" fill="#6464fa"/><rect x="410.8" y="183.8" width="1" height="1" fill="#d7d7fd"/><rect x="411.8" y="183.8" width="2" height="1" fill="#3c46f5"/><rect x="414.8" y="183.8" width="2" height="1" fill="#0000dc"/><rect x="418.8" y="183.8" width="2" height="1" fill="#141eeb"/><rect x="420.8" y="183.8" width="1" height="1" fill="#0000dc"/><rect x="421.8" y="183.8" width="3" height="1" fill="#141eeb"/><rect x="424.8" y="183.8" width="1" height="1" fill="#0000dc"/><rect x="425.8" y="183.8" width="1" height="1" fill="#3c46f5"/><rect x="426.8" y="183.8" width="1" height="1" fill="#141eeb"/><rect x="427.8" y="183.8" width="1" height="1" fill="#0000dc"/><rect x="428.8" y="183.8" width="1" height="1" fill="#141eeb"/><rect x="432.8" y="183.8" width="1" height="1" fill="#141eeb"/><rect x="433.8" y="183.8" width="1" height="1" fill="#3c46f5"/><rect x="434.8" y="183.8" width="1" height="1" fill="#0000dc"/><rect x="435.8" y="183.8" width="1" height="1" fill="#141eeb"/><rect x="436.8" y="183.8" width="1" height="1" fill="#0000dc"/><rect x="446.8" y="183.8" width="1" height="1" fill="#6464fa"/><rect x="447.8" y="183.8" width="1" height="1" fill="#141eeb"/><rect x="448.8" y="183.8" width="1" height="1" fill="#0000dc"/><rect x="454.8" y="183.8" width="3" height="1" fill="#141eeb"/><rect x="458.8" y="183.8" width="1" height="1" fill="#0000dc"/><rect x="461.8" y="183.8" width="1" height="1" fill="#9696fa"/><rect x="464.8" y="183.8" width="2" height="1" fill="#d7d7fd"/><rect x="467.8" y="183.8" width="2" height="1" fill="#d7d7fd"/><rect x="474.8" y="183.8" width="2" height="1" fill="#6464fa"/><rect x="480.8" y="183.8" width="1" height="1" fill="#141eeb"/><rect x="374.8" y="184.8" width="2" height="1" fill="#9696fa"/><rect x="379.8" y="184.8" width="1" height="1" fill="#9696fa"/><rect x="384.8" y="184.8" width="1" height="1" fill="#6464fa"/><rect x="385.8" y="184.8" width="1" height="1" fill="#0000dc"/><rect x="391.8" y="184.8" width="2" height="1" fill="#6464fa"/><rect x="396.8" y="184.8" width="2" height="1" fill="#c8c8fc"/><rect x="399.8" y="184.8" width="2" height="1" fill="#6464fa"/><rect x="401.8" y="184.8" width="2" height="1" fill="#7878f5"/><rect x="403.8" y="184.8" width="1" height="1" fill="#0000dc"/><rect x="405.8" y="184.8" width="1" height="1" fill="#9696fa"/><rect x="406.8" y="184.8" width="1" height="1" fill="#141eeb"/><rect x="408.8" y="184.8" width="1" height="1" fill="#141eeb"/><rect x="409.8" y="184.8" width="1" height="1" fill="#0000dc"/><rect x="410.8" y="184.8" width="1" height="1" fill="#141eeb"/><rect x="411.8" y="184.8" width="1" height="1" fill="#1e32f0"/><rect x="412.8" y="184.8" width="1" height="1" fill="#0000c3"/><rect x="413.8" y="184.8" width="1" height="1" fill="#323cf5"/><rect x="414.8" y="184.8" width="2" height="1" fill="#0000d7"/><rect x="416.8" y="184.8" width="1" height="1" fill="#3c46f5"/><rect x="417.8" y="184.8" width="1" height="1" fill="#0028e1"/><rect x="418.8" y="184.8" width="1" height="1" fill="#323cf5"/><rect x="419.8" y="184.8" width="1" height="1" fill="#0000c3"/><rect x="420.8" y="184.8" width="1" height="1" fill="#0000d7"/><rect x="421.8" y="184.8" width="2" height="1" fill="#141eeb"/><rect x="423.8" y="184.8" width="1" height="1" fill="#323cf5"/><rect x="424.8" y="184.8" width="1" height="1" fill="#141eeb"/><rect x="425.8" y="184.8" width="4" height="1" fill="#0000c3"/><rect x="429.8" y="184.8" width="1" height="1" fill="#3c46f5"/><rect x="430.8" y="184.8" width="1" height="1" fill="#0a14e6"/><rect x="431.8" y="184.8" width="1" height="1" fill="#0000c3"/><rect x="432.8" y="184.8" width="1" height="1" fill="#323cf5"/><rect x="433.8" y="184.8" width="1" height="1" fill="#0a14e6"/><rect x="434.8" y="184.8" width="1" height="1" fill="#0000d7"/><rect x="435.8" y="184.8" width="1" height="1" fill="#0000c3"/><rect x="436.8" y="184.8" width="1" height="1" fill="#0028e1"/><rect x="437.8" y="184.8" width="1" height="1" fill="#0000dc"/><rect x="438.8" y="184.8" width="1" height="1" fill="#6464fa"/><rect x="439.8" y="184.8" width="1" height="1" fill="#1e32f0"/><rect x="440.8" y="184.8" width="1" height="1" fill="#141eeb"/><rect x="441.8" y="184.8" width="1" height="1" fill="#0a14e6"/><rect x="442.8" y="184.8" width="1" height="1" fill="#6464fa"/><rect x="443.8" y="184.8" width="1" height="1" fill="#d7d7fd"/><rect x="448.8" y="184.8" width="1" height="1" fill="#0000dc"/><rect x="450.8" y="184.8" width="1" height="1" fill="#6464fa"/><rect x="452.8" y="184.8" width="1" height="1" fill="#6464fa"/><rect x="455.8" y="184.8" width="1" height="1" fill="#0000dc"/><rect x="456.8" y="184.8" width="1" height="1" fill="#3c46f5"/><rect x="458.8" y="184.8" width="3" height="1" fill="#0000dc"/><rect x="464.8" y="184.8" width="1" height="1" fill="#6464fa"/><rect x="466.8" y="184.8" width="1" height="1" fill="#3c46f5"/><rect x="467.8" y="184.8" width="1" height="1" fill="#d7d7fd"/><rect x="479.8" y="184.8" width="1" height="1" fill="#c8c8fc"/><rect x="384.8" y="185.8" width="1" height="1" fill="#6464fa"/><rect x="391.8" y="185.8" width="1" height="1" fill="#6464fa"/><rect x="392.8" y="185.8" width="1" height="1" fill="#9696fa"/><rect x="394.8" y="185.8" width="1" height="1" fill="#141eeb"/><rect x="396.8" y="185.8" width="1" height="1" fill="#c8c8fc"/><rect x="401.8" y="185.8" width="1" height="1" fill="#6464fa"/><rect x="404.8" y="185.8" width="1" height="1" fill="#1e32f0"/><rect x="405.8" y="185.8" width="2" height="1" fill="#141eeb"/><rect x="407.8" y="185.8" width="1" height="1" fill="#0a14e6"/><rect x="408.8" y="185.8" width="2" height="1" fill="#0028e1"/><rect x="410.8" y="185.8" width="1" height="1" fill="#0000d7"/><rect x="411.8" y="185.8" width="2" height="1" fill="#323cf5"/><rect x="413.8" y="185.8" width="1" height="1" fill="#0000c3"/><rect x="414.8" y="185.8" width="2" height="1" fill="#0000d7"/><rect x="416.8" y="185.8" width="1" height="1" fill="#6464fa"/><rect x="417.8" y="185.8" width="1" height="1" fill="#323cf5"/><rect x="418.8" y="185.8" width="1" height="1" fill="#0028e1"/><rect x="419.8" y="185.8" width="1" height="1" fill="#0a14e6"/><rect x="420.8" y="185.8" width="1" height="1" fill="#1e32f0"/><rect x="422.8" y="185.8" width="1" height="1" fill="#1e32f0"/><rect x="423.8" y="185.8" width="1" height="1" fill="#0000c3"/><rect x="424.8" y="185.8" width="1" height="1" fill="#0028e1"/><rect x="425.8" y="185.8" width="1" height="1" fill="#0000c3"/><rect x="426.8" y="185.8" width="2" height="1" fill="#1e32f0"/><rect x="428.8" y="185.8" width="1" height="1" fill="#323cf5"/><rect x="429.8" y="185.8" width="1" height="1" fill="#1e32f0"/><rect x="430.8" y="185.8" width="1" height="1" fill="#0000d7"/><rect x="431.8" y="185.8" width="1" height="1" fill="#0000dc"/><rect x="432.8" y="185.8" width="1" height="1" fill="#0a14e6"/><rect x="433.8" y="185.8" width="2" height="1" fill="#0028e1"/><rect x="436.8" y="185.8" width="1" height="1" fill="#323cf5"/><rect x="437.8" y="185.8" width="1" height="1" fill="#0000c3"/><rect x="438.8" y="185.8" width="1" height="1" fill="#141eeb"/><rect x="439.8" y="185.8" width="1" height="1" fill="#0028e1"/><rect x="440.8" y="185.8" width="1" height="1" fill="#0000c3"/><rect x="441.8" y="185.8" width="1" height="1" fill="#0028e1"/><rect x="442.8" y="185.8" width="2" height="1" fill="#323cf5"/><rect x="444.8" y="185.8" width="1" height="1" fill="#0028e1"/><rect x="445.8" y="185.8" width="1" height="1" fill="#0000d7"/><rect x="446.8" y="185.8" width="1" height="1" fill="#323cf5"/><rect x="447.8" y="185.8" width="1" height="1" fill="#3c46f5"/><rect x="448.8" y="185.8" width="1" height="1" fill="#0000dc"/><rect x="449.8" y="185.8" width="1" height="1" fill="#0000d7"/><rect x="450.8" y="185.8" width="1" height="1" fill="#0028e1"/><rect x="452.8" y="185.8" width="2" height="1" fill="#6464fa"/><rect x="454.8" y="185.8" width="2" height="1" fill="#141eeb"/><rect x="456.8" y="185.8" width="1" height="1" fill="#9696fa"/><rect x="457.8" y="185.8" width="2" height="1" fill="#141eeb"/><rect x="459.8" y="185.8" width="1" height="1" fill="#0000dc"/><rect x="464.8" y="185.8" width="1" height="1" fill="#6464fa"/><rect x="466.8" y="185.8" width="2" height="1" fill="#6464fa"/><rect x="472.8" y="185.8" width="1" height="1" fill="#afaffa"/><rect x="476.8" y="185.8" width="2" height="1" fill="#c8c8fc"/><rect x="479.8" y="185.8" width="1" height="1" fill="#c8c8fc"/><rect x="483.8" y="185.8" width="2" height="1" fill="#141eeb"/><rect x="485.8" y="185.8" width="1" height="1" fill="#3c46f5"/><rect x="380.8" y="186.8" width="1" height="1" fill="#d7d7fd"/><rect x="387.8" y="186.8" width="1" height="1" fill="#141eeb"/><rect x="388.8" y="186.8" width="2" height="1" fill="#9696fa"/><rect x="391.8" y="186.8" width="1" height="1" fill="#d7d7fd"/><rect x="392.8" y="186.8" width="1" height="1" fill="#141eeb"/><rect x="395.8" y="186.8" width="1" height="1" fill="#141eeb"/><rect x="396.8" y="186.8" width="1" height="1" fill="#3c46f5"/><rect x="398.8" y="186.8" width="1" height="1" fill="#0000c3"/><rect x="399.8" y="186.8" width="1" height="1" fill="#0028e1"/><rect x="400.8" y="186.8" width="1" height="1" fill="#0000d7"/><rect x="401.8" y="186.8" width="2" height="1" fill="#0028e1"/><rect x="403.8" y="186.8" width="1" height="1" fill="#0000d7"/><rect x="404.8" y="186.8" width="1" height="1" fill="#0028e1"/><rect x="405.8" y="186.8" width="2" height="1" fill="#0000c3"/><rect x="407.8" y="186.8" width="1" height="1" fill="#323cf5"/><rect x="410.8" y="186.8" width="1" height="1" fill="#1e32f0"/><rect x="411.8" y="186.8" width="1" height="1" fill="#0000c3"/><rect x="412.8" y="186.8" width="2" height="1" fill="#0a14e6"/><rect x="414.8" y="186.8" width="1" height="1" fill="#1e32f0"/><rect x="415.8" y="186.8" width="1" height="1" fill="#0000d7"/><rect x="416.8" y="186.8" width="1" height="1" fill="#1e32f0"/><rect x="417.8" y="186.8" width="1" height="1" fill="#323cf5"/><rect x="418.8" y="186.8" width="1" height="1" fill="#0a14e6"/><rect x="419.8" y="186.8" width="1" height="1" fill="#0000d7"/><rect x="420.8" y="186.8" width="1" height="1" fill="#0000c3"/><rect x="421.8" y="186.8" width="1" height="1" fill="#1e32f0"/><rect x="422.8" y="186.8" width="1" height="1" fill="#323cf5"/><rect x="423.8" y="186.8" width="1" height="1" fill="#0a14e6"/><rect x="424.8" y="186.8" width="1" height="1" fill="#0000c3"/><rect x="425.8" y="186.8" width="1" height="1" fill="#1e32f0"/><rect x="426.8" y="186.8" width="1" height="1" fill="#0000dc"/><rect x="427.8" y="186.8" width="1" height="1" fill="#323cf5"/><rect x="429.8" y="186.8" width="1" height="1" fill="#1e32f0"/><rect x="430.8" y="186.8" width="1" height="1" fill="#141eeb"/><rect x="431.8" y="186.8" width="2" height="1" fill="#323cf5"/><rect x="433.8" y="186.8" width="2" height="1" fill="#6464fa"/><rect x="435.8" y="186.8" width="2" height="1" fill="#0028e1"/><rect x="437.8" y="186.8" width="1" height="1" fill="#1e32f0"/><rect x="438.8" y="186.8" width="1" height="1" fill="#3c46f5"/><rect x="439.8" y="186.8" width="2" height="1" fill="#0028e1"/><rect x="441.8" y="186.8" width="1" height="1" fill="#141eeb"/><rect x="442.8" y="186.8" width="1" height="1" fill="#0000c3"/><rect x="443.8" y="186.8" width="1" height="1" fill="#0000d7"/><rect x="444.8" y="186.8" width="1" height="1" fill="#0000dc"/><rect x="446.8" y="186.8" width="1" height="1" fill="#0000c3"/><rect x="448.8" y="186.8" width="1" height="1" fill="#323cf5"/><rect x="449.8" y="186.8" width="1" height="1" fill="#0a14e6"/><rect x="450.8" y="186.8" width="1" height="1" fill="#0000c3"/><rect x="451.8" y="186.8" width="1" height="1" fill="#0028e1"/><rect x="452.8" y="186.8" width="2" height="1" fill="#0000c3"/><rect x="454.8" y="186.8" width="2" height="1" fill="#0028e1"/><rect x="456.8" y="186.8" width="1" height="1" fill="#323cf5"/><rect x="457.8" y="186.8" width="1" height="1" fill="#0000dc"/><rect x="459.8" y="186.8" width="1" height="1" fill="#141eeb"/><rect x="460.8" y="186.8" width="1" height="1" fill="#0000dc"/><rect x="469.8" y="186.8" width="1" height="1" fill="#9696fa"/><rect x="476.8" y="186.8" width="1" height="1" fill="#c8c8fc"/><rect x="477.8" y="186.8" width="1" height="1" fill="#3c46f5"/><rect x="485.8" y="186.8" width="1" height="1" fill="#3c46f5"/><rect x="486.8" y="186.8" width="1" height="1" fill="#d7d7fd"/><rect x="376.8" y="187.8" width="2" height="1" fill="#afaffa"/><rect x="386.8" y="187.8" width="2" height="1" fill="#7878f5"/><rect x="389.8" y="187.8" width="2" height="1" fill="#141eeb"/><rect x="391.8" y="187.8" width="1" height="1" fill="#0000c3"/><rect x="392.8" y="187.8" width="1" height="1" fill="#0000d7"/><rect x="393.8" y="187.8" width="1" height="1" fill="#0000c3"/><rect x="394.8" y="187.8" width="3" height="1" fill="#1e32f0"/><rect x="397.8" y="187.8" width="1" height="1" fill="#323cf5"/><rect x="398.8" y="187.8" width="1" height="1" fill="#0000d7"/><rect x="399.8" y="187.8" width="1" height="1" fill="#1e32f0"/><rect x="400.8" y="187.8" width="1" height="1" fill="#0a14e6"/><rect x="401.8" y="187.8" width="1" height="1" fill="#141eeb"/><rect x="402.8" y="187.8" width="1" height="1" fill="#0000d7"/><rect x="403.8" y="187.8" width="1" height="1" fill="#6464fa"/><rect x="404.8" y="187.8" width="2" height="1" fill="#0028e1"/><rect x="406.8" y="187.8" width="1" height="1" fill="#0000d7"/><rect x="407.8" y="187.8" width="2" height="1" fill="#1e32f0"/><rect x="409.8" y="187.8" width="1" height="1" fill="#0000d7"/><rect x="410.8" y="187.8" width="2" height="1" fill="#0028e1"/><rect x="412.8" y="187.8" width="1" height="1" fill="#0000d7"/><rect x="413.8" y="187.8" width="4" height="1" fill="#0028e1"/><rect x="417.8" y="187.8" width="1" height="1" fill="#0000c3"/><rect x="418.8" y="187.8" width="1" height="1" fill="#0a14e6"/><rect x="419.8" y="187.8" width="1" height="1" fill="#1e32f0"/><rect x="420.8" y="187.8" width="1" height="1" fill="#323cf5"/><rect x="421.8" y="187.8" width="1" height="1" fill="#0000c3"/><rect x="422.8" y="187.8" width="2" height="1" fill="#323cf5"/><rect x="425.8" y="187.8" width="1" height="1" fill="#0028e1"/><rect x="426.8" y="187.8" width="2" height="1" fill="#0000c3"/><rect x="428.8" y="187.8" width="1" height="1" fill="#1e32f0"/><rect x="429.8" y="187.8" width="2" height="1" fill="#0a14e6"/><rect x="431.8" y="187.8" width="1" height="1" fill="#0000d7"/><rect x="432.8" y="187.8" width="1" height="1" fill="#323cf5"/><rect x="433.8" y="187.8" width="1" height="1" fill="#0028e1"/><rect x="434.8" y="187.8" width="1" height="1" fill="#323cf5"/><rect x="435.8" y="187.8" width="2" height="1" fill="#0000d7"/><rect x="437.8" y="187.8" width="1" height="1" fill="#1e32f0"/><rect x="438.8" y="187.8" width="1" height="1" fill="#323cf5"/><rect x="439.8" y="187.8" width="1" height="1" fill="#0000d7"/><rect x="440.8" y="187.8" width="1" height="1" fill="#0a14e6"/><rect x="441.8" y="187.8" width="1" height="1" fill="#1e32f0"/><rect x="442.8" y="187.8" width="1" height="1" fill="#6464fa"/><rect x="443.8" y="187.8" width="1" height="1" fill="#323cf5"/><rect x="444.8" y="187.8" width="1" height="1" fill="#1e32f0"/><rect x="445.8" y="187.8" width="1" height="1" fill="#0000d7"/><rect x="446.8" y="187.8" width="1" height="1" fill="#0028e1"/><rect x="447.8" y="187.8" width="1" height="1" fill="#0a14e6"/><rect x="448.8" y="187.8" width="1" height="1" fill="#0000dc"/><rect x="449.8" y="187.8" width="1" height="1" fill="#323cf5"/><rect x="450.8" y="187.8" width="1" height="1" fill="#1e32f0"/><rect x="451.8" y="187.8" width="1" height="1" fill="#323cf5"/><rect x="452.8" y="187.8" width="3" height="1" fill="#1e32f0"/><rect x="455.8" y="187.8" width="1" height="1" fill="#0000c3"/><rect x="456.8" y="187.8" width="1" height="1" fill="#323cf5"/><rect x="457.8" y="187.8" width="1" height="1" fill="#1e32f0"/><rect x="458.8" y="187.8" width="1" height="1" fill="#0028e1"/><rect x="459.8" y="187.8" width="1" height="1" fill="#0000c3"/><rect x="460.8" y="187.8" width="1" height="1" fill="#6464fa"/><rect x="461.8" y="187.8" width="1" height="1" fill="#0000d7"/><rect x="462.8" y="187.8" width="1" height="1" fill="#3c46f5"/><rect x="463.8" y="187.8" width="2" height="1" fill="#323cf5"/><rect x="469.8" y="187.8" width="1" height="1" fill="#0000dc"/><rect x="483.8" y="187.8" width="2" height="1" fill="#6464fa"/><rect x="485.8" y="187.8" width="1" height="1" fill="#d7d7fd"/><rect x="486.8" y="187.8" width="1" height="1" fill="#9696fa"/><rect x="374.8" y="188.8" width="1" height="1" fill="#7878f5"/><rect x="376.8" y="188.8" width="1" height="1" fill="#afaffa"/><rect x="381.8" y="188.8" width="1" height="1" fill="#c8c8fc"/><rect x="384.8" y="188.8" width="1" height="1" fill="#c8c8fc"/><rect x="385.8" y="188.8" width="1" height="1" fill="#0000c3"/><rect x="386.8" y="188.8" width="2" height="1" fill="#1e32f0"/><rect x="388.8" y="188.8" width="1" height="1" fill="#0000d7"/><rect x="389.8" y="188.8" width="1" height="1" fill="#0028e1"/><rect x="390.8" y="188.8" width="1" height="1" fill="#0000c3"/><rect x="391.8" y="188.8" width="2" height="1" fill="#0028e1"/><rect x="393.8" y="188.8" width="1" height="1" fill="#0a14e6"/><rect x="394.8" y="188.8" width="1" height="1" fill="#0000c3"/><rect x="395.8" y="188.8" width="2" height="1" fill="#1e32f0"/><rect x="397.8" y="188.8" width="2" height="1" fill="#323cf5"/><rect x="399.8" y="188.8" width="1" height="1" fill="#0028e1"/><rect x="400.8" y="188.8" width="1" height="1" fill="#323cf5"/><rect x="401.8" y="188.8" width="1" height="1" fill="#1e32f0"/><rect x="402.8" y="188.8" width="1" height="1" fill="#0028e1"/><rect x="403.8" y="188.8" width="1" height="1" fill="#1e32f0"/><rect x="404.8" y="188.8" width="1" height="1" fill="#0a14e6"/><rect x="405.8" y="188.8" width="1" height="1" fill="#0028e1"/><rect x="406.8" y="188.8" width="1" height="1" fill="#0000c3"/><rect x="407.8" y="188.8" width="2" height="1" fill="#1e32f0"/><rect x="409.8" y="188.8" width="1" height="1" fill="#0000d7"/><rect x="410.8" y="188.8" width="1" height="1" fill="#0a14e6"/><rect x="411.8" y="188.8" width="2" height="1" fill="#323cf5"/><rect x="413.8" y="188.8" width="1" height="1" fill="#0028e1"/><rect x="414.8" y="188.8" width="1" height="1" fill="#0000c3"/><rect x="415.8" y="188.8" width="2" height="1" fill="#0a14e6"/><rect x="417.8" y="188.8" width="1" height="1" fill="#0028e1"/><rect x="418.8" y="188.8" width="2" height="1" fill="#323cf5"/><rect x="420.8" y="188.8" width="1" height="1" fill="#1e32f0"/><rect x="421.8" y="188.8" width="1" height="1" fill="#323cf5"/><rect x="422.8" y="188.8" width="1" height="1" fill="#6464fa"/><rect x="423.8" y="188.8" width="2" height="1" fill="#0028e1"/><rect x="425.8" y="188.8" width="1" height="1" fill="#1e32f0"/><rect x="426.8" y="188.8" width="1" height="1" fill="#323cf5"/><rect x="427.8" y="188.8" width="1" height="1" fill="#0000c3"/><rect x="428.8" y="188.8" width="1" height="1" fill="#0a14e6"/><rect x="429.8" y="188.8" width="2" height="1" fill="#0028e1"/><rect x="431.8" y="188.8" width="1" height="1" fill="#323cf5"/><rect x="432.8" y="188.8" width="2" height="1" fill="#0000c3"/><rect x="434.8" y="188.8" width="1" height="1" fill="#0a14e6"/><rect x="435.8" y="188.8" width="2" height="1" fill="#323cf5"/><rect x="437.8" y="188.8" width="1" height="1" fill="#1e32f0"/><rect x="438.8" y="188.8" width="1" height="1" fill="#3c46f5"/><rect x="439.8" y="188.8" width="1" height="1" fill="#0000d7"/><rect x="440.8" y="188.8" width="1" height="1" fill="#0a14e6"/><rect x="441.8" y="188.8" width="1" height="1" fill="#0028e1"/><rect x="442.8" y="188.8" width="1" height="1" fill="#1e32f0"/><rect x="443.8" y="188.8" width="1" height="1" fill="#0028e1"/><rect x="444.8" y="188.8" width="1" height="1" fill="#323cf5"/><rect x="445.8" y="188.8" width="1" height="1" fill="#0000d7"/><rect x="446.8" y="188.8" width="1" height="1" fill="#323cf5"/><rect x="447.8" y="188.8" width="1" height="1" fill="#0a14e6"/><rect x="448.8" y="188.8" width="1" height="1" fill="#6464fa"/><rect x="449.8" y="188.8" width="2" height="1" fill="#0a14e6"/><rect x="451.8" y="188.8" width="2" height="1" fill="#0000d7"/><rect x="453.8" y="188.8" width="1" height="1" fill="#1e32f0"/><rect x="454.8" y="188.8" width="1" height="1" fill="#0028e1"/><rect x="455.8" y="188.8" width="1" height="1" fill="#0a14e6"/><rect x="456.8" y="188.8" width="1" height="1" fill="#323cf5"/><rect x="457.8" y="188.8" width="1" height="1" fill="#1e32f0"/><rect x="458.8" y="188.8" width="1" height="1" fill="#0028e1"/><rect x="459.8" y="188.8" width="1" height="1" fill="#0a14e6"/><rect x="460.8" y="188.8" width="1" height="1" fill="#0000c3"/><rect x="461.8" y="188.8" width="1" height="1" fill="#0028e1"/><rect x="462.8" y="188.8" width="2" height="1" fill="#0a14e6"/><rect x="464.8" y="188.8" width="1" height="1" fill="#0000c3"/><rect x="465.8" y="188.8" width="1" height="1" fill="#323cf5"/><rect x="466.8" y="188.8" width="2" height="1" fill="#0a14e6"/><rect x="468.8" y="188.8" width="1" height="1" fill="#0000dc"/><rect x="469.8" y="188.8" width="1" height="1" fill="#0a14e6"/><rect x="470.8" y="188.8" width="1" height="1" fill="#323cf5"/><rect x="472.8" y="188.8" width="3" height="1" fill="#3c46f5"/><rect x="476.8" y="188.8" width="2" height="1" fill="#6464fa"/><rect x="481.8" y="188.8" width="1" height="1" fill="#d7d7fd"/><rect x="484.8" y="188.8" width="2" height="1" fill="#6464fa"/><rect x="375.8" y="189.8" width="1" height="1" fill="#d7d7fd"/><rect x="382.8" y="189.8" width="2" height="1" fill="#9696fa"/><rect x="385.8" y="189.8" width="1" height="1" fill="#0000c3"/><rect x="386.8" y="189.8" width="1" height="1" fill="#0028e1"/><rect x="387.8" y="189.8" width="2" height="1" fill="#0000d7"/><rect x="389.8" y="189.8" width="1" height="1" fill="#0028e1"/><rect x="390.8" y="189.8" width="2" height="1" fill="#0a14e6"/><rect x="392.8" y="189.8" width="1" height="1" fill="#1e32f0"/><rect x="393.8" y="189.8" width="1" height="1" fill="#0a14e6"/><rect x="394.8" y="189.8" width="1" height="1" fill="#0000d7"/><rect x="395.8" y="189.8" width="1" height="1" fill="#1e32f0"/><rect x="396.8" y="189.8" width="1" height="1" fill="#0a14e6"/><rect x="397.8" y="189.8" width="1" height="1" fill="#0000c3"/><rect x="398.8" y="189.8" width="1" height="1" fill="#1e32f0"/><rect x="399.8" y="189.8" width="1" height="1" fill="#0a14e6"/><rect x="400.8" y="189.8" width="1" height="1" fill="#0000c3"/><rect x="401.8" y="189.8" width="2" height="1" fill="#0a14e6"/><rect x="403.8" y="189.8" width="2" height="1" fill="#1e32f0"/><rect x="405.8" y="189.8" width="1" height="1" fill="#0a14e6"/><rect x="406.8" y="189.8" width="1" height="1" fill="#0000c3"/><rect x="407.8" y="189.8" width="1" height="1" fill="#0000dc"/><rect x="408.8" y="189.8" width="1" height="1" fill="#0000d7"/><rect x="409.8" y="189.8" width="1" height="1" fill="#0a14e6"/><rect x="410.8" y="189.8" width="1" height="1" fill="#0028e1"/><rect x="411.8" y="189.8" width="1" height="1" fill="#0000d7"/><rect x="412.8" y="189.8" width="1" height="1" fill="#0a14e6"/><rect x="413.8" y="189.8" width="2" height="1" fill="#0028e1"/><rect x="415.8" y="189.8" width="1" height="1" fill="#0000c3"/><rect x="416.8" y="189.8" width="1" height="1" fill="#6464fa"/><rect x="417.8" y="189.8" width="1" height="1" fill="#0000d7"/><rect x="418.8" y="189.8" width="1" height="1" fill="#0000c3"/><rect x="419.8" y="189.8" width="1" height="1" fill="#323cf5"/><rect x="420.8" y="189.8" width="1" height="1" fill="#0000c3"/><rect x="421.8" y="189.8" width="1" height="1" fill="#0a14e6"/><rect x="422.8" y="189.8" width="1" height="1" fill="#323cf5"/><rect x="423.8" y="189.8" width="1" height="1" fill="#d7d7fd"/><rect x="424.8" y="189.8" width="2" height="1" fill="#0a14e6"/><rect x="426.8" y="189.8" width="2" height="1" fill="#1e32f0"/><rect x="428.8" y="189.8" width="1" height="1" fill="#323cf5"/><rect x="429.8" y="189.8" width="1" height="1" fill="#0000c3"/><rect x="430.8" y="189.8" width="1" height="1" fill="#0028e1"/><rect x="431.8" y="189.8" width="1" height="1" fill="#1e32f0"/><rect x="432.8" y="189.8" width="1" height="1" fill="#323cf5"/><rect x="433.8" y="189.8" width="2" height="1" fill="#0a14e6"/><rect x="435.8" y="189.8" width="1" height="1" fill="#3c46f5"/><rect x="436.8" y="189.8" width="1" height="1" fill="#0000c3"/><rect x="437.8" y="189.8" width="1" height="1" fill="#1e32f0"/><rect x="438.8" y="189.8" width="1" height="1" fill="#0000c3"/><rect x="439.8" y="189.8" width="2" height="1" fill="#0000d7"/><rect x="441.8" y="189.8" width="1" height="1" fill="#0a14e6"/><rect x="442.8" y="189.8" width="1" height="1" fill="#1e32f0"/><rect x="443.8" y="189.8" width="1" height="1" fill="#0028e1"/><rect x="444.8" y="189.8" width="1" height="1" fill="#1e32f0"/><rect x="445.8" y="189.8" width="1" height="1" fill="#323cf5"/><rect x="446.8" y="189.8" width="1" height="1" fill="#141eeb"/><rect x="447.8" y="189.8" width="1" height="1" fill="#6464fa"/><rect x="448.8" y="189.8" width="1" height="1" fill="#0000d7"/><rect x="449.8" y="189.8" width="1" height="1" fill="#323cf5"/><rect x="450.8" y="189.8" width="1" height="1" fill="#0a14e6"/><rect x="451.8" y="189.8" width="1" height="1" fill="#141eeb"/><rect x="452.8" y="189.8" width="1" height="1" fill="#0000d7"/><rect x="453.8" y="189.8" width="1" height="1" fill="#0028e1"/><rect x="454.8" y="189.8" width="1" height="1" fill="#0000d7"/><rect x="455.8" y="189.8" width="1" height="1" fill="#0028e1"/><rect x="456.8" y="189.8" width="1" height="1" fill="#6464fa"/><rect x="457.8" y="189.8" width="1" height="1" fill="#0a14e6"/><rect x="458.8" y="189.8" width="1" height="1" fill="#0000c3"/><rect x="459.8" y="189.8" width="1" height="1" fill="#0000d7"/><rect x="460.8" y="189.8" width="1" height="1" fill="#0a14e6"/><rect x="462.8" y="189.8" width="1" height="1" fill="#0a14e6"/><rect x="463.8" y="189.8" width="1" height="1" fill="#323cf5"/><rect x="464.8" y="189.8" width="2" height="1" fill="#0a14e6"/><rect x="466.8" y="189.8" width="1" height="1" fill="#0000c3"/><rect x="467.8" y="189.8" width="1" height="1" fill="#0028e1"/><rect x="468.8" y="189.8" width="1" height="1" fill="#1e32f0"/><rect x="469.8" y="189.8" width="1" height="1" fill="#0000c3"/><rect x="470.8" y="189.8" width="1" height="1" fill="#323cf5"/><rect x="471.8" y="189.8" width="1" height="1" fill="#0028e1"/><rect x="473.8" y="189.8" width="1" height="1" fill="#0a14e6"/><rect x="474.8" y="189.8" width="1" height="1" fill="#d7d7fd"/><rect x="475.8" y="189.8" width="2" height="1" fill="#0a14e6"/><rect x="477.8" y="189.8" width="1" height="1" fill="#141eeb"/><rect x="478.8" y="189.8" width="1" height="1" fill="#0a14e6"/><rect x="479.8" y="189.8" width="2" height="1" fill="#0028e1"/><rect x="380.8" y="190.8" width="2" height="1" fill="#0000c3"/><rect x="382.8" y="190.8" width="1" height="1" fill="#9696fa"/><rect x="383.8" y="190.8" width="1" height="1" fill="#0000c3"/><rect x="384.8" y="190.8" width="1" height="1" fill="#0028e1"/><rect x="388.8" y="190.8" width="2" height="1" fill="#0028e1"/><rect x="390.8" y="190.8" width="4" height="1" fill="#323cf5"/><rect x="395.8" y="190.8" width="2" height="1" fill="#0000c3"/><rect x="397.8" y="190.8" width="1" height="1" fill="#0028e1"/><rect x="398.8" y="190.8" width="1" height="1" fill="#0a14e6"/><rect x="399.8" y="190.8" width="1" height="1" fill="#0000d7"/><rect x="400.8" y="190.8" width="1" height="1" fill="#0028e1"/><rect x="401.8" y="190.8" width="1" height="1" fill="#1e32f0"/><rect x="402.8" y="190.8" width="3" height="1" fill="#0028e1"/><rect x="405.8" y="190.8" width="1" height="1" fill="#0000c3"/><rect x="406.8" y="190.8" width="2" height="1" fill="#0028e1"/><rect x="408.8" y="190.8" width="1" height="1" fill="#0a14e6"/><rect x="409.8" y="190.8" width="1" height="1" fill="#0000d7"/><rect x="410.8" y="190.8" width="1" height="1" fill="#6464fa"/><rect x="411.8" y="190.8" width="2" height="1" fill="#0000d7"/><rect x="413.8" y="190.8" width="1" height="1" fill="#323cf5"/><rect x="414.8" y="190.8" width="1" height="1" fill="#0a14e6"/><rect x="415.8" y="190.8" width="1" height="1" fill="#6464fa"/><rect x="416.8" y="190.8" width="1" height="1" fill="#0028e1"/><rect x="417.8" y="190.8" width="1" height="1" fill="#323cf5"/><rect x="418.8" y="190.8" width="1" height="1" fill="#0000c3"/><rect x="419.8" y="190.8" width="1" height="1" fill="#0000d7"/><rect x="420.8" y="190.8" width="1" height="1" fill="#323cf5"/><rect x="421.8" y="190.8" width="1" height="1" fill="#0028e1"/><rect x="422.8" y="190.8" width="1" height="1" fill="#0a14e6"/><rect x="423.8" y="190.8" width="1" height="1" fill="#323cf5"/><rect x="424.8" y="190.8" width="1" height="1" fill="#1e32f0"/><rect x="425.8" y="190.8" width="1" height="1" fill="#0000d7"/><rect x="426.8" y="190.8" width="1" height="1" fill="#6464fa"/><rect x="427.8" y="190.8" width="2" height="1" fill="#0000c3"/><rect x="429.8" y="190.8" width="3" height="1" fill="#0000d7"/><rect x="432.8" y="190.8" width="1" height="1" fill="#1e32f0"/><rect x="433.8" y="190.8" width="1" height="1" fill="#0000d7"/><rect x="434.8" y="190.8" width="1" height="1" fill="#1e32f0"/><rect x="435.8" y="190.8" width="1" height="1" fill="#0a14e6"/><rect x="436.8" y="190.8" width="1" height="1" fill="#0000c3"/><rect x="437.8" y="190.8" width="1" height="1" fill="#323cf5"/><rect x="438.8" y="190.8" width="1" height="1" fill="#0028e1"/><rect x="439.8" y="190.8" width="1" height="1" fill="#0000c3"/><rect x="440.8" y="190.8" width="2" height="1" fill="#323cf5"/><rect x="442.8" y="190.8" width="1" height="1" fill="#0028e1"/><rect x="443.8" y="190.8" width="1" height="1" fill="#323cf5"/><rect x="444.8" y="190.8" width="1" height="1" fill="#0000d7"/><rect x="445.8" y="190.8" width="1" height="1" fill="#1e32f0"/><rect x="446.8" y="190.8" width="1" height="1" fill="#0028e1"/><rect x="447.8" y="190.8" width="1" height="1" fill="#0a14e6"/><rect x="448.8" y="190.8" width="1" height="1" fill="#1e32f0"/><rect x="449.8" y="190.8" width="1" height="1" fill="#323cf5"/><rect x="450.8" y="190.8" width="1" height="1" fill="#0000c3"/><rect x="451.8" y="190.8" width="1" height="1" fill="#0000d7"/><rect x="452.8" y="190.8" width="1" height="1" fill="#323cf5"/><rect x="453.8" y="190.8" width="1" height="1" fill="#0028e1"/><rect x="454.8" y="190.8" width="1" height="1" fill="#0a14e6"/><rect x="455.8" y="190.8" width="1" height="1" fill="#0000d7"/><rect x="456.8" y="190.8" width="1" height="1" fill="#1e32f0"/><rect x="457.8" y="190.8" width="1" height="1" fill="#0000c3"/><rect x="458.8" y="190.8" width="1" height="1" fill="#0028e1"/><rect x="459.8" y="190.8" width="1" height="1" fill="#0a14e6"/><rect x="460.8" y="190.8" width="1" height="1" fill="#0028e1"/><rect x="461.8" y="190.8" width="1" height="1" fill="#0a14e6"/><rect x="462.8" y="190.8" width="1" height="1" fill="#0000c3"/><rect x="463.8" y="190.8" width="1" height="1" fill="#323cf5"/><rect x="464.8" y="190.8" width="1" height="1" fill="#1e32f0"/><rect x="465.8" y="190.8" width="1" height="1" fill="#0a14e6"/><rect x="466.8" y="190.8" width="2" height="1" fill="#323cf5"/><rect x="468.8" y="190.8" width="1" height="1" fill="#1e32f0"/><rect x="469.8" y="190.8" width="2" height="1" fill="#0a14e6"/><rect x="471.8" y="190.8" width="1" height="1" fill="#1e32f0"/><rect x="472.8" y="190.8" width="1" height="1" fill="#323cf5"/><rect x="473.8" y="190.8" width="1" height="1" fill="#0028e1"/><rect x="474.8" y="190.8" width="1" height="1" fill="#323cf5"/><rect x="475.8" y="190.8" width="1" height="1" fill="#0000d7"/><rect x="476.8" y="190.8" width="1" height="1" fill="#0000c3"/><rect x="477.8" y="190.8" width="2" height="1" fill="#0000d7"/><rect x="479.8" y="190.8" width="1" height="1" fill="#0028e1"/><rect x="480.8" y="190.8" width="1" height="1" fill="#0000d7"/><rect x="481.8" y="190.8" width="1" height="1" fill="#0a14e6"/><rect x="482.8" y="190.8" width="2" height="1" fill="#323cf5"/><rect x="484.8" y="190.8" width="1" height="1" fill="#afaffa"/><rect x="485.8" y="190.8" width="1" height="1" fill="#0000d7"/><rect x="486.8" y="190.8" width="1" height="1" fill="#0028e1"/><rect x="381.8" y="191.8" width="1" height="1" fill="#6464fa"/><rect x="385.8" y="191.8" width="1" height="1" fill="#0000d7"/><rect x="386.8" y="191.8" width="1" height="1" fill="#1e32f0"/><rect x="387.8" y="191.8" width="1" height="1" fill="#0a14e6"/><rect x="390.8" y="191.8" width="1" height="1" fill="#0028e1"/><rect x="391.8" y="191.8" width="2" height="1" fill="#1e32f0"/><rect x="393.8" y="191.8" width="1" height="1" fill="#0028e1"/><rect x="394.8" y="191.8" width="1" height="1" fill="#0000c3"/><rect x="395.8" y="191.8" width="2" height="1" fill="#0000d7"/><rect x="397.8" y="191.8" width="1" height="1" fill="#0000c3"/><rect x="398.8" y="191.8" width="1" height="1" fill="#323cf5"/><rect x="399.8" y="191.8" width="1" height="1" fill="#6464fa"/><rect x="400.8" y="191.8" width="1" height="1" fill="#323cf5"/><rect x="401.8" y="191.8" width="1" height="1" fill="#0000c3"/><rect x="402.8" y="191.8" width="1" height="1" fill="#1e32f0"/><rect x="403.8" y="191.8" width="1" height="1" fill="#0000c3"/><rect x="404.8" y="191.8" width="3" height="1" fill="#323cf5"/><rect x="408.8" y="191.8" width="1" height="1" fill="#0028e1"/><rect x="409.8" y="191.8" width="1" height="1" fill="#1e32f0"/><rect x="410.8" y="191.8" width="1" height="1" fill="#0028e1"/><rect x="411.8" y="191.8" width="2" height="1" fill="#0000c3"/><rect x="413.8" y="191.8" width="1" height="1" fill="#0028e1"/><rect x="415.8" y="191.8" width="1" height="1" fill="#0000c3"/><rect x="416.8" y="191.8" width="1" height="1" fill="#323cf5"/><rect x="417.8" y="191.8" width="3" height="1" fill="#0028e1"/><rect x="420.8" y="191.8" width="3" height="1" fill="#0000c3"/><rect x="423.8" y="191.8" width="2" height="1" fill="#323cf5"/><rect x="425.8" y="191.8" width="1" height="1" fill="#0000d7"/><rect x="426.8" y="191.8" width="1" height="1" fill="#0a14e6"/><rect x="427.8" y="191.8" width="1" height="1" fill="#141eeb"/><rect x="428.8" y="191.8" width="1" height="1" fill="#0a14e6"/><rect x="429.8" y="191.8" width="2" height="1" fill="#0000c3"/><rect x="431.8" y="191.8" width="1" height="1" fill="#1e32f0"/><rect x="432.8" y="191.8" width="4" height="1" fill="#0a14e6"/><rect x="436.8" y="191.8" width="1" height="1" fill="#0000c3"/><rect x="438.8" y="191.8" width="1" height="1" fill="#0028e1"/><rect x="439.8" y="191.8" width="1" height="1" fill="#323cf5"/><rect x="440.8" y="191.8" width="1" height="1" fill="#0000dc"/><rect x="441.8" y="191.8" width="1" height="1" fill="#1e32f0"/><rect x="442.8" y="191.8" width="1" height="1" fill="#0000c3"/><rect x="443.8" y="191.8" width="1" height="1" fill="#0000d7"/><rect x="444.8" y="191.8" width="1" height="1" fill="#0028e1"/><rect x="445.8" y="191.8" width="1" height="1" fill="#323cf5"/><rect x="447.8" y="191.8" width="1" height="1" fill="#0000c3"/><rect x="448.8" y="191.8" width="1" height="1" fill="#0a14e6"/><rect x="449.8" y="191.8" width="1" height="1" fill="#0028e1"/><rect x="450.8" y="191.8" width="1" height="1" fill="#323cf5"/><rect x="451.8" y="191.8" width="2" height="1" fill="#1e32f0"/><rect x="453.8" y="191.8" width="1" height="1" fill="#0a14e6"/><rect x="454.8" y="191.8" width="1" height="1" fill="#0028e1"/><rect x="455.8" y="191.8" width="1" height="1" fill="#0a14e6"/><rect x="456.8" y="191.8" width="1" height="1" fill="#0000d7"/><rect x="457.8" y="191.8" width="2" height="1" fill="#0a14e6"/><rect x="460.8" y="191.8" width="1" height="1" fill="#0028e1"/><rect x="461.8" y="191.8" width="1" height="1" fill="#1e32f0"/><rect x="462.8" y="191.8" width="1" height="1" fill="#0000c3"/><rect x="463.8" y="191.8" width="1" height="1" fill="#0a14e6"/><rect x="464.8" y="191.8" width="1" height="1" fill="#0000d7"/><rect x="465.8" y="191.8" width="1" height="1" fill="#323cf5"/><rect x="466.8" y="191.8" width="1" height="1" fill="#0000d7"/><rect x="467.8" y="191.8" width="1" height="1" fill="#0000c3"/><rect x="468.8" y="191.8" width="2" height="1" fill="#0a14e6"/><rect x="470.8" y="191.8" width="1" height="1" fill="#323cf5"/><rect x="471.8" y="191.8" width="1" height="1" fill="#1e32f0"/><rect x="473.8" y="191.8" width="1" height="1" fill="#323cf5"/><rect x="474.8" y="191.8" width="1" height="1" fill="#9696fa"/><rect x="475.8" y="191.8" width="1" height="1" fill="#0028e1"/><rect x="476.8" y="191.8" width="2" height="1" fill="#141eeb"/><rect x="478.8" y="191.8" width="1" height="1" fill="#0000d7"/><rect x="479.8" y="191.8" width="1" height="1" fill="#9696fa"/><rect x="480.8" y="191.8" width="1" height="1" fill="#323cf5"/><rect x="481.8" y="191.8" width="1" height="1" fill="#0000c3"/><rect x="483.8" y="191.8" width="1" height="1" fill="#d7d7fd"/><rect x="484.8" y="191.8" width="1" height="1" fill="#323cf5"/><rect x="485.8" y="191.8" width="1" height="1" fill="#0a14e6"/><rect x="486.8" y="191.8" width="1" height="1" fill="#0000d7"/><rect x="385.8" y="192.8" width="1" height="1" fill="#0a14e6"/><rect x="387.8" y="192.8" width="2" height="1" fill="#0a14e6"/><rect x="389.8" y="192.8" width="1" height="1" fill="#0028e1"/><rect x="390.8" y="192.8" width="1" height="1" fill="#323cf5"/><rect x="391.8" y="192.8" width="1" height="1" fill="#0000d7"/><rect x="392.8" y="192.8" width="1" height="1" fill="#0028e1"/><rect x="393.8" y="192.8" width="1" height="1" fill="#1e32f0"/><rect x="394.8" y="192.8" width="1" height="1" fill="#0000c3"/><rect x="395.8" y="192.8" width="1" height="1" fill="#0028e1"/><rect x="396.8" y="192.8" width="1" height="1" fill="#0000d7"/><rect x="397.8" y="192.8" width="1" height="1" fill="#0028e1"/><rect x="398.8" y="192.8" width="2" height="1" fill="#0a14e6"/><rect x="400.8" y="192.8" width="1" height="1" fill="#323cf5"/><rect x="401.8" y="192.8" width="4" height="1" fill="#0078f0"/><rect x="405.8" y="192.8" width="2" height="1" fill="#003cf0"/><rect x="407.8" y="192.8" width="13" height="1" fill="#0078f0"/><rect x="420.8" y="192.8" width="4" height="1" fill="#003cf0"/><rect x="424.8" y="192.8" width="3" height="1" fill="#0078f0"/><rect x="427.8" y="192.8" width="1" height="1" fill="#003cf0"/><rect x="428.8" y="192.8" width="2" height="1" fill="#0078f0"/><rect x="430.8" y="192.8" width="2" height="1" fill="#003cf0"/><rect x="432.8" y="192.8" width="2" height="1" fill="#0078f0"/><rect x="434.8" y="192.8" width="1" height="1" fill="#003cf0"/><rect x="435.8" y="192.8" width="2" height="1" fill="#0078f0"/><rect x="437.8" y="192.8" width="4" height="1" fill="#003cf0"/><rect x="441.8" y="192.8" width="2" height="1" fill="#0078f0"/><rect x="443.8" y="192.8" width="2" height="1" fill="#003cf0"/><rect x="445.8" y="192.8" width="1" height="1" fill="#0078f0"/><rect x="446.8" y="192.8" width="1" height="1" fill="#003cf0"/><rect x="447.8" y="192.8" width="2" height="1" fill="#0078f0"/><rect x="449.8" y="192.8" width="2" height="1" fill="#003cf0"/><rect x="451.8" y="192.8" width="1" height="1" fill="#0078f0"/><rect x="452.8" y="192.8" width="3" height="1" fill="#003cf0"/><rect x="455.8" y="192.8" width="1" height="1" fill="#0078f0"/><rect x="456.8" y="192.8" width="1" height="1" fill="#003cf0"/><rect x="457.8" y="192.8" width="3" height="1" fill="#0078f0"/><rect x="460.8" y="192.8" width="1" height="1" fill="#003cf0"/><rect x="461.8" y="192.8" width="1" height="1" fill="#0000c3"/><rect x="462.8" y="192.8" width="1" height="1" fill="#0000d7"/><rect x="463.8" y="192.8" width="1" height="1" fill="#0028e1"/><rect x="464.8" y="192.8" width="1" height="1" fill="#0000d7"/><rect x="465.8" y="192.8" width="1" height="1" fill="#323cf5"/><rect x="466.8" y="192.8" width="1" height="1" fill="#0028e1"/><rect x="467.8" y="192.8" width="1" height="1" fill="#0000c3"/><rect x="468.8" y="192.8" width="1" height="1" fill="#1e32f0"/><rect x="469.8" y="192.8" width="1" height="1" fill="#0a14e6"/><rect x="470.8" y="192.8" width="1" height="1" fill="#0028e1"/><rect x="472.8" y="192.8" width="1" height="1" fill="#0028e1"/><rect x="473.8" y="192.8" width="2" height="1" fill="#0a14e6"/><rect x="475.8" y="192.8" width="3" height="1" fill="#0000d7"/><rect x="478.8" y="192.8" width="1" height="1" fill="#0028e1"/><rect x="479.8" y="192.8" width="1" height="1" fill="#141eeb"/><rect x="480.8" y="192.8" width="1" height="1" fill="#0a14e6"/><rect x="481.8" y="192.8" width="1" height="1" fill="#0000c3"/><rect x="482.8" y="192.8" width="1" height="1" fill="#1e32f0"/><rect x="483.8" y="192.8" width="1" height="1" fill="#323cf5"/><rect x="484.8" y="192.8" width="1" height="1" fill="#0028e1"/><rect x="485.8" y="192.8" width="1" height="1" fill="#0a14e6"/><rect x="486.8" y="192.8" width="1" height="1" fill="#0000c3"/><rect x="375.8" y="193.8" width="1" height="1" fill="#c8c8fc"/><rect x="376.8" y="193.8" width="1" height="1" fill="#d7d7fd"/><rect x="380.8" y="193.8" width="1" height="1" fill="#323cf5"/><rect x="382.8" y="193.8" width="1" height="1" fill="#0000d7"/><rect x="383.8" y="193.8" width="1" height="1" fill="#0a14e6"/><rect x="384.8" y="193.8" width="1" height="1" fill="#323cf5"/><rect x="388.8" y="193.8" width="1" height="1" fill="#1e32f0"/><rect x="389.8" y="193.8" width="1" height="1" fill="#0a14e6"/><rect x="391.8" y="193.8" width="1" height="1" fill="#7878f5"/><rect x="392.8" y="193.8" width="1" height="1" fill="#0a14e6"/><rect x="393.8" y="193.8" width="1" height="1" fill="#1e32f0"/><rect x="394.8" y="193.8" width="1" height="1" fill="#0a14e6"/><rect x="395.8" y="193.8" width="1" height="1" fill="#323cf5"/><rect x="396.8" y="193.8" width="1" height="1" fill="#0000d7"/><rect x="397.8" y="193.8" width="1" height="1" fill="#0a14e6"/><rect x="398.8" y="193.8" width="1" height="1" fill="#323cf5"/><rect x="399.8" y="193.8" width="2" height="1" fill="#0028e1"/><rect x="401.8" y="193.8" width="1" height="1" fill="#003cf0"/><rect x="402.8" y="193.8" width="1" height="1" fill="#0078f0"/><rect x="403.8" y="193.8" width="1" height="1" fill="#003cf0"/><rect x="404.8" y="193.8" width="1" height="1" fill="#003eed"/><rect x="405.8" y="193.8" width="1" height="1" fill="#0053f3"/><rect x="406.8" y="193.8" width="1" height="1" fill="#0066f3"/><rect x="407.8" y="193.8" width="1" height="1" fill="#008bee"/><rect x="408.8" y="193.8" width="1" height="1" fill="#0084ef"/><rect x="409.8" y="193.8" width="1" height="1" fill="#00a7ea"/><rect x="410.8" y="193.8" width="1" height="1" fill="#00ade9"/><rect x="411.8" y="193.8" width="1" height="1" fill="#00a2eb"/><rect x="412.8" y="193.8" width="1" height="1" fill="#03c9e1"/><rect x="413.8" y="193.8" width="1" height="1" fill="#20d8b5"/><rect x="414.8" y="193.8" width="1" height="1" fill="#25daad"/><rect x="415.8" y="193.8" width="1" height="1" fill="#1bd5bd"/><rect x="416.8" y="193.8" width="1" height="1" fill="#30e09d"/><rect x="417.8" y="193.8" width="1" height="1" fill="#3ae58e"/><rect x="418.8" y="193.8" width="1" height="1" fill="#3fe689"/><rect x="419.8" y="193.8" width="1" height="1" fill="#88e651"/><rect x="420.8" y="193.8" width="1" height="1" fill="#72e661"/><rect x="421.8" y="193.8" width="1" height="1" fill="#a6e639"/><rect x="422.8" y="193.8" width="1" height="1" fill="#c8e020"/><rect x="423.8" y="193.8" width="1" height="1" fill="#c1e425"/><rect x="424.8" y="193.8" width="1" height="1" fill="#cedc1b"/><rect x="425.8" y="193.8" width="1" height="1" fill="#eecb05"/><rect x="426.8" y="193.8" width="1" height="1" fill="#d3da18"/><rect x="427.8" y="193.8" width="1" height="1" fill="#ebcd06"/><rect x="428.8" y="193.8" width="1" height="1" fill="#e8ce08"/><rect x="429.8" y="193.8" width="1" height="1" fill="#eacd07"/><rect x="430.8" y="193.8" width="1" height="1" fill="#d8d714"/><rect x="431.8" y="193.8" width="1" height="1" fill="#e7cf0a"/><rect x="432.8" y="193.8" width="1" height="1" fill="#e7cf09"/><rect x="433.8" y="193.8" width="1" height="1" fill="#cddd1c"/><rect x="434.8" y="193.8" width="1" height="1" fill="#d5d916"/><rect x="435.8" y="193.8" width="1" height="1" fill="#d4d917"/><rect x="436.8" y="193.8" width="1" height="1" fill="#cbde1e"/><rect x="437.8" y="193.8" width="1" height="1" fill="#abe635"/><rect x="438.8" y="193.8" width="1" height="1" fill="#bfe527"/><rect x="439.8" y="193.8" width="1" height="1" fill="#96e646"/><rect x="440.8" y="193.8" width="1" height="1" fill="#84e654"/><rect x="441.8" y="193.8" width="1" height="1" fill="#5de672"/><rect x="442.8" y="193.8" width="1" height="1" fill="#49e681"/><rect x="443.8" y="193.8" width="1" height="1" fill="#43e686"/><rect x="444.8" y="193.8" width="1" height="1" fill="#34e297"/><rect x="445.8" y="193.8" width="1" height="1" fill="#21d8b4"/><rect x="446.8" y="193.8" width="1" height="1" fill="#19d4c0"/><rect x="447.8" y="193.8" width="1" height="1" fill="#00b0e9"/><rect x="448.8" y="193.8" width="1" height="1" fill="#00ade9"/><rect x="449.8" y="193.8" width="1" height="1" fill="#00c3e6"/><rect x="450.8" y="193.8" width="1" height="1" fill="#00a9ea"/><rect x="451.8" y="193.8" width="1" height="1" fill="#009eeb"/><rect x="452.8" y="193.8" width="1" height="1" fill="#0086ee"/><rect x="453.8" y="193.8" width="1" height="1" fill="#005cf4"/><rect x="454.8" y="193.8" width="1" height="1" fill="#0057f4"/><rect x="455.8" y="193.8" width="1" height="1" fill="#0052f2"/><rect x="456.8" y="193.8" width="1" height="1" fill="#003dec"/><rect x="457.8" y="193.8" width="1" height="1" fill="#0078f0"/><rect x="458.8" y="193.8" width="1" height="1" fill="#003cf0"/><rect x="459.8" y="193.8" width="2" height="1" fill="#0078f0"/><rect x="461.8" y="193.8" width="1" height="1" fill="#323cf5"/><rect x="462.8" y="193.8" width="2" height="1" fill="#0000c3"/><rect x="464.8" y="193.8" width="3" height="1" fill="#1e32f0"/><rect x="467.8" y="193.8" width="2" height="1" fill="#0000c3"/><rect x="469.8" y="193.8" width="1" height="1" fill="#0028e1"/><rect x="470.8" y="193.8" width="1" height="1" fill="#0a14e6"/><rect x="471.8" y="193.8" width="2" height="1" fill="#0000c3"/><rect x="473.8" y="193.8" width="1" height="1" fill="#0a14e6"/><rect x="474.8" y="193.8" width="1" height="1" fill="#323cf5"/><rect x="475.8" y="193.8" width="1" height="1" fill="#0000c3"/><rect x="476.8" y="193.8" width="2" height="1" fill="#0000d7"/><rect x="478.8" y="193.8" width="1" height="1" fill="#323cf5"/><rect x="479.8" y="193.8" width="1" height="1" fill="#0000c3"/><rect x="480.8" y="193.8" width="1" height="1" fill="#1e32f0"/><rect x="481.8" y="193.8" width="1" height="1" fill="#0000d7"/><rect x="482.8" y="193.8" width="2" height="1" fill="#0a14e6"/><rect x="484.8" y="193.8" width="1" height="1" fill="#0000d7"/><rect x="485.8" y="193.8" width="1" height="1" fill="#323cf5"/><rect x="486.8" y="193.8" width="1" height="1" fill="#0028e1"/><rect x="379.8" y="194.8" width="1" height="1" fill="#7878f5"/><rect x="386.8" y="194.8" width="1" height="1" fill="#0030e9"/><rect x="388.8" y="194.8" width="1" height="1" fill="#003fed"/><rect x="389.8" y="194.8" width="1" height="1" fill="#0053f3"/><rect x="390.8" y="194.8" width="1" height="1" fill="#0030e9"/><rect x="391.8" y="194.8" width="1" height="1" fill="#0041ee"/><rect x="392.8" y="194.8" width="1" height="1" fill="#0051f2"/><rect x="393.8" y="194.8" width="1" height="1" fill="#0040ee"/><rect x="394.8" y="194.8" width="1" height="1" fill="#0049f0"/><rect x="395.8" y="194.8" width="1" height="1" fill="#0054f3"/><rect x="396.8" y="194.8" width="1" height="1" fill="#0075f1"/><rect x="397.8" y="194.8" width="1" height="1" fill="#005cf4"/><rect x="398.8" y="194.8" width="1" height="1" fill="#006ff2"/><rect x="399.8" y="194.8" width="1" height="1" fill="#004df1"/><rect x="400.8" y="194.8" width="1" height="1" fill="#0078f0"/><rect x="401.8" y="194.8" width="1" height="1" fill="#0083ef"/><rect x="402.8" y="194.8" width="1" height="1" fill="#00a5ea"/><rect x="403.8" y="194.8" width="1" height="1" fill="#04cadf"/><rect x="404.8" y="194.8" width="1" height="1" fill="#00b7e8"/><rect x="405.8" y="194.8" width="1" height="1" fill="#00bde7"/><rect x="406.8" y="194.8" width="1" height="1" fill="#00c8e4"/><rect x="407.8" y="194.8" width="1" height="1" fill="#09ccd7"/><rect x="408.8" y="194.8" width="1" height="1" fill="#2edfa0"/><rect x="409.8" y="194.8" width="1" height="1" fill="#24daaf"/><rect x="410.8" y="194.8" width="1" height="1" fill="#42e687"/><rect x="411.8" y="194.8" width="1" height="1" fill="#25daad"/><rect x="412.8" y="194.8" width="1" height="1" fill="#54e679"/><rect x="413.8" y="194.8" width="1" height="1" fill="#73e661"/><rect x="414.8" y="194.8" width="1" height="1" fill="#66e66b"/><rect x="415.8" y="194.8" width="1" height="1" fill="#aae637"/><rect x="416.8" y="194.8" width="1" height="1" fill="#bce629"/><rect x="417.8" y="194.8" width="1" height="1" fill="#c5e122"/><rect x="418.8" y="194.8" width="1" height="1" fill="#c3e223"/><rect x="419.8" y="194.8" width="1" height="1" fill="#d6d816"/><rect x="420.8" y="194.8" width="1" height="1" fill="#efca03"/><rect x="421.8" y="194.8" width="1" height="1" fill="#f5c600"/><rect x="422.8" y="194.8" width="1" height="1" fill="#f5bf00"/><rect x="423.8" y="194.8" width="1" height="1" fill="#f5b600"/><rect x="424.8" y="194.8" width="1" height="1" fill="#f5ae00"/><rect x="425.8" y="194.8" width="1" height="1" fill="#f5af00"/><rect x="426.8" y="194.8" width="1" height="1" fill="#f5b500"/><rect x="427.8" y="194.8" width="1" height="1" fill="#f5a000"/><rect x="428.8" y="194.8" width="1" height="1" fill="#f5a600"/><rect x="429.8" y="194.8" width="1" height="1" fill="#f5a100"/><rect x="430.8" y="194.8" width="1" height="1" fill="#f59e00"/><rect x="431.8" y="194.8" width="1" height="1" fill="#f5b200"/><rect x="432.8" y="194.8" width="1" height="1" fill="#f5b400"/><rect x="433.8" y="194.8" width="1" height="1" fill="#f5a900"/><rect x="434.8" y="194.8" width="1" height="1" fill="#f59f00"/><rect x="435.8" y="194.8" width="1" height="1" fill="#f5bc00"/><rect x="436.8" y="194.8" width="1" height="1" fill="#f5b600"/><rect x="437.8" y="194.8" width="1" height="1" fill="#edcc05"/><rect x="438.8" y="194.8" width="1" height="1" fill="#f5bd00"/><rect x="439.8" y="194.8" width="1" height="1" fill="#dad613"/><rect x="440.8" y="194.8" width="1" height="1" fill="#e6cf0a"/><rect x="441.8" y="194.8" width="1" height="1" fill="#eacd07"/><rect x="442.8" y="194.8" width="1" height="1" fill="#d6d815"/><rect x="443.8" y="194.8" width="1" height="1" fill="#afe633"/><rect x="444.8" y="194.8" width="1" height="1" fill="#a8e638"/><rect x="445.8" y="194.8" width="1" height="1" fill="#a0e63e"/><rect x="446.8" y="194.8" width="1" height="1" fill="#44e685"/><rect x="447.8" y="194.8" width="1" height="1" fill="#3ae58d"/><rect x="448.8" y="194.8" width="1" height="1" fill="#42e686"/><rect x="449.8" y="194.8" width="1" height="1" fill="#3de68a"/><rect x="450.8" y="194.8" width="1" height="1" fill="#20d8b5"/><rect x="451.8" y="194.8" width="1" height="1" fill="#13d1c9"/><rect x="452.8" y="194.8" width="1" height="1" fill="#17d3c2"/><rect x="453.8" y="194.8" width="1" height="1" fill="#04cadf"/><rect x="454.8" y="194.8" width="1" height="1" fill="#00bfe7"/><rect x="455.8" y="194.8" width="1" height="1" fill="#06cbdc"/><rect x="456.8" y="194.8" width="1" height="1" fill="#006bf2"/><rect x="457.8" y="194.8" width="1" height="1" fill="#008ded"/><rect x="458.8" y="194.8" width="1" height="1" fill="#0055f3"/><rect x="459.8" y="194.8" width="1" height="1" fill="#0059f4"/><rect x="460.8" y="194.8" width="1" height="1" fill="#0072f1"/><rect x="461.8" y="194.8" width="1" height="1" fill="#0052f2"/><rect x="462.8" y="194.8" width="1" height="1" fill="#004af0"/><rect x="463.8" y="194.8" width="1" height="1" fill="#0063f3"/><rect x="464.8" y="194.8" width="1" height="1" fill="#0043ee"/><rect x="465.8" y="194.8" width="1" height="1" fill="#0054f3"/><rect x="466.8" y="194.8" width="1" height="1" fill="#002ce8"/><rect x="467.8" y="194.8" width="1" height="1" fill="#003cec"/><rect x="468.8" y="194.8" width="1" height="1" fill="#0045ef"/><rect x="469.8" y="194.8" width="2" height="1" fill="#004af0"/><rect x="471.8" y="194.8" width="1" height="1" fill="#002ee8"/><rect x="472.8" y="194.8" width="1" height="1" fill="#0042ee"/><rect x="473.8" y="194.8" width="1" height="1" fill="#0029e7"/><rect x="474.8" y="194.8" width="1" height="1" fill="#0036eb"/><rect x="475.8" y="194.8" width="1" height="1" fill="#0023e5"/><rect x="476.8" y="194.8" width="2" height="1" fill="#0041ee"/><rect x="478.8" y="194.8" width="1" height="1" fill="#002fe9"/><rect x="479.8" y="194.8" width="1" height="1" fill="#0043ee"/><rect x="480.8" y="194.8" width="1" height="1" fill="#003bec"/><rect x="481.8" y="194.8" width="1" height="1" fill="#002be7"/><rect x="482.8" y="194.8" width="1" height="1" fill="#003bec"/><rect x="483.8" y="194.8" width="1" height="1" fill="#0031e9"/><rect x="484.8" y="194.8" width="1" height="1" fill="#003ded"/><rect x="485.8" y="194.8" width="1" height="1" fill="#0044ef"/><rect x="486.8" y="194.8" width="1" height="1" fill="#003aec"/><rect x="381.8" y="195.8" width="1" height="1" fill="#5050fa"/><rect x="382.8" y="195.8" width="1" height="1" fill="#001eeb"/><rect x="384.8" y="195.8" width="1" height="1" fill="#001eeb"/><rect x="387.8" y="195.8" width="1" height="1" fill="#5050fa"/><rect x="388.8" y="195.8" width="1" height="1" fill="#001eeb"/><rect x="390.8" y="195.8" width="4" height="1" fill="#001eeb"/><rect x="394.8" y="195.8" width="2" height="1" fill="#5050fa"/><rect x="396.8" y="195.8" width="4" height="1" fill="#001eeb"/><rect x="400.8" y="195.8" width="1" height="1" fill="#5050fa"/><rect x="402.8" y="195.8" width="1" height="1" fill="#001eeb"/><rect x="403.8" y="195.8" width="1" height="1" fill="#5050fa"/><rect x="404.8" y="195.8" width="1" height="1" fill="#0042ee"/><rect x="405.8" y="195.8" width="1" height="1" fill="#0032ea"/><rect x="406.8" y="195.8" width="1" height="1" fill="#0054f3"/><rect x="407.8" y="195.8" width="1" height="1" fill="#004bf0"/><rect x="408.8" y="195.8" width="1" height="1" fill="#007fef"/><rect x="409.8" y="195.8" width="1" height="1" fill="#005cf4"/><rect x="410.8" y="195.8" width="1" height="1" fill="#0094ec"/><rect x="411.8" y="195.8" width="1" height="1" fill="#03c9e0"/><rect x="412.8" y="195.8" width="1" height="1" fill="#00c6e6"/><rect x="413.8" y="195.8" width="1" height="1" fill="#0bcdd4"/><rect x="414.8" y="195.8" width="1" height="1" fill="#23d9b0"/><rect x="415.8" y="195.8" width="1" height="1" fill="#22d9b2"/><rect x="416.8" y="195.8" width="1" height="1" fill="#31e09b"/><rect x="417.8" y="195.8" width="1" height="1" fill="#61e66f"/><rect x="418.8" y="195.8" width="1" height="1" fill="#3de68a"/><rect x="419.8" y="195.8" width="1" height="1" fill="#60e66f"/><rect x="420.8" y="195.8" width="1" height="1" fill="#89e650"/><rect x="421.8" y="195.8" width="1" height="1" fill="#aae636"/><rect x="422.8" y="195.8" width="1" height="1" fill="#d3da18"/><rect x="423.8" y="195.8" width="1" height="1" fill="#d4d917"/><rect x="424.8" y="195.8" width="1" height="1" fill="#d6d816"/><rect x="425.8" y="195.8" width="1" height="1" fill="#e3d10c"/><rect x="426.8" y="195.8" width="1" height="1" fill="#d5d917"/><rect x="427.8" y="195.8" width="1" height="1" fill="#dcd512"/><rect x="428.8" y="195.8" width="1" height="1" fill="#f5c700"/><rect x="429.8" y="195.8" width="1" height="1" fill="#e4d10c"/><rect x="430.8" y="195.8" width="1" height="1" fill="#f3c800"/><rect x="431.8" y="195.8" width="1" height="1" fill="#f3c801"/><rect x="432.8" y="195.8" width="1" height="1" fill="#dcd511"/><rect x="433.8" y="195.8" width="1" height="1" fill="#d0db1a"/><rect x="434.8" y="195.8" width="1" height="1" fill="#dcd511"/><rect x="435.8" y="195.8" width="1" height="1" fill="#e3d10c"/><rect x="436.8" y="195.8" width="1" height="1" fill="#cedc1b"/><rect x="437.8" y="195.8" width="1" height="1" fill="#c5e222"/><rect x="438.8" y="195.8" width="1" height="1" fill="#c3e223"/><rect x="439.8" y="195.8" width="1" height="1" fill="#a1e63e"/><rect x="440.8" y="195.8" width="1" height="1" fill="#93e648"/><rect x="441.8" y="195.8" width="1" height="1" fill="#85e653"/><rect x="442.8" y="195.8" width="1" height="1" fill="#69e669"/><rect x="443.8" y="195.8" width="1" height="1" fill="#31e09b"/><rect x="444.8" y="195.8" width="1" height="1" fill="#3be58c"/><rect x="445.8" y="195.8" width="1" height="1" fill="#2fdf9f"/><rect x="446.8" y="195.8" width="1" height="1" fill="#15d2c5"/><rect x="447.8" y="195.8" width="1" height="1" fill="#0dced1"/><rect x="448.8" y="195.8" width="1" height="1" fill="#00a5ea"/><rect x="449.8" y="195.8" width="1" height="1" fill="#00bae7"/><rect x="450.8" y="195.8" width="1" height="1" fill="#008fed"/><rect x="451.8" y="195.8" width="1" height="1" fill="#007fef"/><rect x="452.8" y="195.8" width="1" height="1" fill="#0055f3"/><rect x="453.8" y="195.8" width="1" height="1" fill="#004ef1"/><rect x="454.8" y="195.8" width="1" height="1" fill="#0043ee"/><rect x="455.8" y="195.8" width="1" height="1" fill="#0041ee"/><rect x="456.8" y="195.8" width="1" height="1" fill="#003aec"/><rect x="457.8" y="195.8" width="1" height="1" fill="#5050fa"/><rect x="458.8" y="195.8" width="7" height="1" fill="#001eeb"/><rect x="465.8" y="195.8" width="1" height="1" fill="#5050fa"/><rect x="466.8" y="195.8" width="1" height="1" fill="#001eeb"/><rect x="467.8" y="195.8" width="1" height="1" fill="#5050fa"/><rect x="468.8" y="195.8" width="8" height="1" fill="#001eeb"/><rect x="476.8" y="195.8" width="1" height="1" fill="#5050fa"/><rect x="477.8" y="195.8" width="2" height="1" fill="#001eeb"/><rect x="479.8" y="195.8" width="1" height="1" fill="#5050fa"/><rect x="480.8" y="195.8" width="4" height="1" fill="#001eeb"/><rect x="485.8" y="195.8" width="1" height="1" fill="#001eeb"/><rect x="486.8" y="195.8" width="1" height="1" fill="#5050fa"/><rect x="376.8" y="196.8" width="1" height="1" fill="#afaffa"/><rect x="378.8" y="196.8" width="1" height="1" fill="#9696fa"/><rect x="382.8" y="196.8" width="1" height="1" fill="#7878f5"/><rect x="384.8" y="196.8" width="1" height="1" fill="#001eeb"/><rect x="388.8" y="196.8" width="2" height="1" fill="#5050fa"/><rect x="391.8" y="196.8" width="1" height="1" fill="#001eeb"/><rect x="392.8" y="196.8" width="1" height="1" fill="#9696fa"/><rect x="393.8" y="196.8" width="1" height="1" fill="#001eeb"/><rect x="394.8" y="196.8" width="1" height="1" fill="#5050fa"/><rect x="395.8" y="196.8" width="1" height="1" fill="#001eeb"/><rect x="396.8" y="196.8" width="1" height="1" fill="#5050fa"/><rect x="397.8" y="196.8" width="3" height="1" fill="#001eeb"/><rect x="400.8" y="196.8" width="1" height="1" fill="#5050fa"/><rect x="401.8" y="196.8" width="1" height="1" fill="#001eeb"/><rect x="402.8" y="196.8" width="2" height="1" fill="#5050fa"/><rect x="404.8" y="196.8" width="3" height="1" fill="#001eeb"/><rect x="407.8" y="196.8" width="1" height="1" fill="#5050fa"/><rect x="408.8" y="196.8" width="6" height="1" fill="#001eeb"/><rect x="414.8" y="196.8" width="1" height="1" fill="#5050fa"/><rect x="416.8" y="196.8" width="1" height="1" fill="#001eeb"/><rect x="418.8" y="196.8" width="1" height="1" fill="#001eeb"/><rect x="420.8" y="196.8" width="1" height="1" fill="#5050fa"/><rect x="421.8" y="196.8" width="2" height="1" fill="#001eeb"/><rect x="423.8" y="196.8" width="1" height="1" fill="#5050fa"/><rect x="424.8" y="196.8" width="1" height="1" fill="#001eeb"/><rect x="426.8" y="196.8" width="1" height="1" fill="#5050fa"/><rect x="427.8" y="196.8" width="3" height="1" fill="#001eeb"/><rect x="430.8" y="196.8" width="1" height="1" fill="#5050fa"/><rect x="431.8" y="196.8" width="1" height="1" fill="#001eeb"/><rect x="432.8" y="196.8" width="1" height="1" fill="#5050fa"/><rect x="433.8" y="196.8" width="10" height="1" fill="#001eeb"/><rect x="443.8" y="196.8" width="1" height="1" fill="#5050fa"/><rect x="444.8" y="196.8" width="2" height="1" fill="#001eeb"/><rect x="446.8" y="196.8" width="1" height="1" fill="#5050fa"/><rect x="447.8" y="196.8" width="1" height="1" fill="#001eeb"/><rect x="448.8" y="196.8" width="1" height="1" fill="#5050fa"/><rect x="449.8" y="196.8" width="8" height="1" fill="#001eeb"/><rect x="458.8" y="196.8" width="1" height="1" fill="#001eeb"/><rect x="460.8" y="196.8" width="1" height="1" fill="#5050fa"/><rect x="461.8" y="196.8" width="7" height="1" fill="#001eeb"/><rect x="468.8" y="196.8" width="4" height="1" fill="#5050fa"/><rect x="472.8" y="196.8" width="3" height="1" fill="#001eeb"/><rect x="476.8" y="196.8" width="1" height="1" fill="#001eeb"/><rect x="477.8" y="196.8" width="1" height="1" fill="#5050fa"/><rect x="478.8" y="196.8" width="2" height="1" fill="#001eeb"/><rect x="481.8" y="196.8" width="3" height="1" fill="#001eeb"/><rect x="484.8" y="196.8" width="1" height="1" fill="#5050fa"/><rect x="485.8" y="196.8" width="2" height="1" fill="#001eeb"/><rect x="391.8" y="197.8" width="1" height="1" fill="#c8c8fc"/><rect x="394.8" y="197.8" width="1" height="1" fill="#afaffa"/><rect x="408.8" y="197.8" width="1" height="1" fill="#9696fa"/><rect x="409.8" y="197.8" width="1" height="1" fill="#7878f5"/><rect x="414.8" y="197.8" width="2" height="1" fill="#001eeb"/><rect x="416.8" y="197.8" width="1" height="1" fill="#5050fa"/><rect x="417.8" y="197.8" width="1" height="1" fill="#001eeb"/><rect x="418.8" y="197.8" width="1" height="1" fill="#5050fa"/><rect x="419.8" y="197.8" width="2" height="1" fill="#001eeb"/><rect x="421.8" y="197.8" width="1" height="1" fill="#5050fa"/><rect x="422.8" y="197.8" width="2" height="1" fill="#001eeb"/><rect x="424.8" y="197.8" width="1" height="1" fill="#5050fa"/><rect x="425.8" y="197.8" width="1" height="1" fill="#001eeb"/><rect x="428.8" y="197.8" width="3" height="1" fill="#001eeb"/><rect x="432.8" y="197.8" width="1" height="1" fill="#001eeb"/><rect x="434.8" y="197.8" width="1" height="1" fill="#001eeb"/><rect x="436.8" y="197.8" width="1" height="1" fill="#5050fa"/><rect x="437.8" y="197.8" width="1" height="1" fill="#001eeb"/><rect x="438.8" y="197.8" width="1" height="1" fill="#5050fa"/><rect x="439.8" y="197.8" width="3" height="1" fill="#001eeb"/><rect x="443.8" y="197.8" width="1" height="1" fill="#001eeb"/><rect x="444.8" y="197.8" width="1" height="1" fill="#5050fa"/><rect x="445.8" y="197.8" width="1" height="1" fill="#001eeb"/><rect x="451.8" y="197.8" width="1" height="1" fill="#c8c8fc"/><rect x="454.8" y="197.8" width="1" height="1" fill="#7878f5"/><rect x="458.8" y="197.8" width="1" height="1" fill="#afaffa"/><rect x="464.8" y="197.8" width="1" height="1" fill="#7878f5"/><rect x="481.8" y="197.8" width="1" height="1" fill="#9696fa"/><rect x="482.8" y="197.8" width="1" height="1" fill="#7878f5"/><rect x="373.8" y="198.8" width="2" height="1" fill="#afaffa"/><rect x="382.8" y="198.8" width="1" height="1" fill="#c8c8fc"/><rect x="395.8" y="198.8" width="1" height="1" fill="#9696fa"/><rect x="447.8" y="198.8" width="1" height="1" fill="#9696fa"/><rect x="467.8" y="198.8" width="2" height="1" fill="#9696fa"/><rect x="480.8" y="198.8" width="2" height="1" fill="#afaffa"/><rect x="486.8" y="198.8" width="1" height="1" fill="#afaffa"/><rect x="387.8" y="199.8" width="2" height="1" fill="#afaffa"/><rect x="389.8" y="199.8" width="1" height="1" fill="#7878f5"/><rect x="407.8" y="199.8" width="2" height="1" fill="#afaffa"/><rect x="421.8" y="199.8" width="2" height="1" fill="#c8c8fc"/><rect x="428.8" y="199.8" width="2" height="1" fill="#d7d7fd"/><rect x="452.8" y="199.8" width="2" height="1" fill="#afaffa"/><rect x="454.8" y="199.8" width="2" height="1" fill="#9696fa"/><rect x="462.8" y="199.8" width="1" height="1" fill="#c8c8fc"/><rect x="478.8" y="199.8" width="2" height="1" fill="#9696fa"/><rect x="486.8" y="199.8" width="1" height="1" fill="#7878f5"/><rect x="377.8" y="200.8" width="2" height="1" fill="#c8c8fc"/><rect x="388.8" y="200.8" width="1" height="1" fill="#7878f5"/><rect x="389.8" y="200.8" width="1" height="1" fill="#afaffa"/><rect x="395.8" y="200.8" width="2" height="1" fill="#afaffa"/><rect x="399.8" y="200.8" width="1" height="1" fill="#7878f5"/><rect x="400.8" y="200.8" width="1" height="1" fill="#d7d7fd"/><rect x="415.8" y="200.8" width="2" height="1" fill="#afaffa"/><rect x="421.8" y="200.8" width="1" height="1" fill="#7878f5"/><rect x="422.8" y="200.8" width="2" height="1" fill="#c8c8fc"/><rect x="441.8" y="200.8" width="2" height="1" fill="#afaffa"/><rect x="452.8" y="200.8" width="1" height="1" fill="#d7d7fd"/><rect x="466.8" y="200.8" width="1" height="1" fill="#d7d7fd"/><rect x="473.8" y="200.8" width="1" height="1" fill="#d7d7fd"/><rect x="484.8" y="200.8" width="2" height="1" fill="#7878f5"/><rect x="382.8" y="201.8" width="1" height="1" fill="#c8c8fc"/><rect x="387.8" y="201.8" width="2" height="1" fill="#9696fa"/><rect x="410.8" y="201.8" width="1" height="1" fill="#c8c8fc"/><rect x="412.8" y="201.8" width="1" height="1" fill="#afaffa"/><rect x="415.8" y="201.8" width="2" height="1" fill="#d7d7fd"/><rect x="418.8" y="201.8" width="1" height="1" fill="#9696fa"/><rect x="427.8" y="201.8" width="2" height="1" fill="#c8c8fc"/><rect x="460.8" y="201.8" width="1" height="1" fill="#afaffa"/><rect x="464.8" y="201.8" width="1" height="1" fill="#7878f5"/><rect x="467.8" y="201.8" width="1" height="1" fill="#d7d7fd"/><rect x="470.8" y="201.8" width="2" height="1" fill="#c8c8fc"/><rect x="373.8" y="202.8" width="1" height="1" fill="#d7d7fd"/><rect x="375.8" y="202.8" width="2" height="1" fill="#9696fa"/><rect x="382.8" y="202.8" width="2" height="1" fill="#7878f5"/><rect x="391.8" y="202.8" width="2" height="1" fill="#d7d7fd"/><rect x="395.8" y="202.8" width="2" height="1" fill="#d7d7fd"/><rect x="401.8" y="202.8" width="1" height="1" fill="#c8c8fc"/><rect x="417.8" y="202.8" width="1" height="1" fill="#9696fa"/><rect x="421.8" y="202.8" width="1" height="1" fill="#d7d7fd"/><rect x="428.8" y="202.8" width="2" height="1" fill="#afaffa"/><rect x="448.8" y="202.8" width="2" height="1" fill="#c8c8fc"/><rect x="454.8" y="202.8" width="2" height="1" fill="#7878f5"/><rect x="458.8" y="202.8" width="2" height="1" fill="#7878f5"/><rect x="475.8" y="202.8" width="1" height="1" fill="#7878f5"/><rect x="395.8" y="203.8" width="1" height="1" fill="#c8c8fc"/><rect x="396.8" y="203.8" width="1" height="1" fill="#9696fa"/><rect x="399.8" y="203.8" width="1" height="1" fill="#afaffa"/><rect x="424.8" y="203.8" width="1" height="1" fill="#9696fa"/><rect x="435.8" y="203.8" width="1" height="1" fill="#7878f5"/><rect x="442.8" y="203.8" width="2" height="1" fill="#d7d7fd"/><rect x="447.8" y="203.8" width="3" height="1" fill="#afaffa"/><rect x="451.8" y="203.8" width="2" height="1" fill="#7878f5"/><rect x="454.8" y="203.8" width="2" height="1" fill="#afaffa"/><rect x="457.8" y="203.8" width="2" height="1" fill="#c8c8fc"/><rect x="469.8" y="203.8" width="2" height="1" fill="#afaffa"/><rect x="397.8" y="204.8" width="2" height="1" fill="#afaffa"/><rect x="400.8" y="204.8" width="1" height="1" fill="#9696fa"/><rect x="405.8" y="204.8" width="4" height="1" fill="#c8c8fc"/><rect x="412.8" y="204.8" width="2" height="1" fill="#afaffa"/><rect x="418.8" y="204.8" width="1" height="1" fill="#7878f5"/><rect x="429.8" y="204.8" width="2" height="1" fill="#7878f5"/><rect x="433.8" y="204.8" width="2" height="1" fill="#afaffa"/><rect x="443.8" y="204.8" width="1" height="1" fill="#afaffa"/><rect x="457.8" y="204.8" width="2" height="1" fill="#9696fa"/><rect x="482.8" y="204.8" width="1" height="1" fill="#9696fa"/><rect x="385.8" y="205.8" width="1" height="1" fill="#d7d7fd"/><rect x="392.8" y="205.8" width="1" height="1" fill="#afaffa"/><rect x="405.8" y="205.8" width="1" height="1" fill="#9696fa"/><rect x="417.8" y="205.8" width="2" height="1" fill="#9696fa"/><rect x="438.8" y="205.8" width="1" height="1" fill="#7878f5"/><rect x="439.8" y="205.8" width="1" height="1" fill="#afaffa"/><rect x="444.8" y="205.8" width="2" height="1" fill="#d7d7fd"/><rect x="461.8" y="205.8" width="1" height="1" fill="#c8c8fc"/><rect x="472.8" y="205.8" width="2" height="1" fill="#c8c8fc"/><rect x="481.8" y="205.8" width="2" height="1" fill="#afaffa"/><rect x="378.8" y="206.8" width="2" height="1" fill="#afaffa"/><rect x="405.8" y="206.8" width="1" height="1" fill="#9696fa"/><rect x="413.8" y="206.8" width="2" height="1" fill="#7878f5"/><rect x="438.8" y="206.8" width="2" height="1" fill="#9696fa"/><rect x="454.8" y="206.8" width="1" height="1" fill="#c8c8fc"/><rect x="462.8" y="206.8" width="2" height="1" fill="#d7d7fd"/><rect x="474.8" y="206.8" width="2" height="1" fill="#7878f5"/><rect x="481.8" y="206.8" width="1" height="1" fill="#c8c8fc"/><rect x="485.8" y="206.8" width="2" height="1" fill="#7878f5"/><rect x="373.8" y="207.8" width="1" height="1" fill="#afaffa"/><rect x="374.8" y="207.8" width="1" height="1" fill="#9696fa"/><rect x="393.8" y="207.8" width="2" height="1" fill="#9696fa"/><rect x="395.8" y="207.8" width="2" height="1" fill="#c8c8fc"/><rect x="399.8" y="207.8" width="1" height="1" fill="#c8c8fc"/><rect x="410.8" y="207.8" width="2" height="1" fill="#9696fa"/><rect x="412.8" y="207.8" width="1" height="1" fill="#d7d7fd"/><rect x="439.8" y="207.8" width="1" height="1" fill="#7878f5"/><rect x="448.8" y="207.8" width="2" height="1" fill="#c8c8fc"/><rect x="458.8" y="207.8" width="1" height="1" fill="#9696fa"/><rect x="460.8" y="207.8" width="2" height="1" fill="#c8c8fc"/><rect x="464.8" y="207.8" width="1" height="1" fill="#7878f5"/><rect x="484.8" y="207.8" width="1" height="1" fill="#afaffa"/><rect x="377.8" y="208.8" width="1" height="1" fill="#9696fa"/><rect x="386.8" y="208.8" width="2" height="1" fill="#afaffa"/><rect x="399.8" y="208.8" width="2" height="1" fill="#d7d7fd"/><rect x="405.8" y="208.8" width="3" height="1" fill="#afaffa"/><rect x="422.8" y="208.8" width="2" height="1" fill="#7878f5"/><rect x="426.8" y="208.8" width="1" height="1" fill="#afaffa"/><rect x="428.8" y="208.8" width="2" height="1" fill="#7878f5"/><rect x="439.8" y="208.8" width="1" height="1" fill="#c8c8fc"/><rect x="440.8" y="208.8" width="2" height="1" fill="#9696fa"/><rect x="445.8" y="208.8" width="2" height="1" fill="#c8c8fc"/><rect x="471.8" y="208.8" width="1" height="1" fill="#d7d7fd"/><rect x="474.8" y="208.8" width="2" height="1" fill="#7878f5"/><rect x="379.8" y="209.8" width="1" height="1" fill="#afaffa"/><rect x="386.8" y="209.8" width="2" height="1" fill="#7878f5"/><rect x="404.8" y="209.8" width="2" height="1" fill="#afaffa"/><rect x="419.8" y="209.8" width="2" height="1" fill="#afaffa"/><rect x="429.8" y="209.8" width="1" height="1" fill="#d7d7fd"/><rect x="431.8" y="209.8" width="1" height="1" fill="#9696fa"/><rect x="436.8" y="209.8" width="1" height="1" fill="#d7d7fd"/><rect x="456.8" y="209.8" width="2" height="1" fill="#c8c8fc"/><rect x="463.8" y="209.8" width="1" height="1" fill="#c8c8fc"/><rect x="384.8" y="210.8" width="2" height="1" fill="#afaffa"/><rect x="444.8" y="210.8" width="1" height="1" fill="#afaffa"/><rect x="453.8" y="210.8" width="2" height="1" fill="#7878f5"/><rect x="475.8" y="210.8" width="2" height="1" fill="#9696fa"/><rect x="375.8" y="211.8" width="1" height="1" fill="#9696fa"/><rect x="377.8" y="211.8" width="2" height="1" fill="#d7d7fd"/><rect x="391.8" y="211.8" width="2" height="1" fill="#c8c8fc"/><rect x="394.8" y="211.8" width="1" height="1" fill="#7878f5"/><rect x="396.8" y="211.8" width="1" height="1" fill="#9696fa"/><rect x="397.8" y="211.8" width="3" height="1" fill="#7878f5"/><rect x="420.8" y="211.8" width="1" height="1" fill="#9696fa"/><rect x="426.8" y="211.8" width="2" height="1" fill="#7878f5"/><rect x="440.8" y="211.8" width="2" height="1" fill="#7878f5"/><rect x="445.8" y="211.8" width="2" height="1" fill="#afaffa"/><rect x="484.8" y="211.8" width="2" height="1" fill="#7878f5"/><rect x="383.8" y="212.8" width="1" height="1" fill="#afaffa"/><rect x="401.8" y="212.8" width="1" height="1" fill="#afaffa"/><rect x="406.8" y="212.8" width="1" height="1" fill="#9696fa"/><rect x="414.8" y="212.8" width="1" height="1" fill="#d7d7fd"/><rect x="428.8" y="212.8" width="2" height="1" fill="#7878f5"/><rect x="430.8" y="212.8" width="1" height="1" fill="#afaffa"/><rect x="435.8" y="212.8" width="1" height="1" fill="#7878f5"/><rect x="448.8" y="212.8" width="1" height="1" fill="#7878f5"/><rect x="465.8" y="212.8" width="2" height="1" fill="#7878f5"/><rect x="378.8" y="213.8" width="1" height="1" fill="#d7d7fd"/><rect x="386.8" y="213.8" width="1" height="1" fill="#afaffa"/><rect x="390.8" y="213.8" width="1" height="1" fill="#c8c8fc"/><rect x="393.8" y="213.8" width="2" height="1" fill="#9696fa"/><rect x="412.8" y="213.8" width="1" height="1" fill="#d7d7fd"/><rect x="420.8" y="213.8" width="2" height="1" fill="#c8c8fc"/><rect x="426.8" y="213.8" width="1" height="1" fill="#9696fa"/><rect x="427.8" y="213.8" width="1" height="1" fill="#7878f5"/><rect x="475.8" y="213.8" width="2" height="1" fill="#9696fa"/><rect x="479.8" y="213.8" width="1" height="1" fill="#d7d7fd"/><rect x="382.8" y="214.8" width="2" height="1" fill="#d7d7fd"/><rect x="420.8" y="214.8" width="2" height="1" fill="#9696fa"/><rect x="431.8" y="214.8" width="2" height="1" fill="#c8c8fc"/><rect x="434.8" y="214.8" width="2" height="1" fill="#afaffa"/><rect x="459.8" y="214.8" width="1" height="1" fill="#c8c8fc"/><rect x="381.8" y="215.8" width="1" height="1" fill="#c8c8fc"/><rect x="400.8" y="215.8" width="1" height="1" fill="#9696fa"/><rect x="407.8" y="215.8" width="1" height="1" fill="#afaffa"/><rect x="408.8" y="215.8" width="3" height="1" fill="#7878f5"/><rect x="411.8" y="215.8" width="1" height="1" fill="#c8c8fc"/><rect x="415.8" y="215.8" width="2" height="1" fill="#d7d7fd"/><rect x="421.8" y="215.8" width="1" height="1" fill="#7878f5"/><rect x="424.8" y="215.8" width="2" height="1" fill="#d7d7fd"/><rect x="431.8" y="215.8" width="1" height="1" fill="#c8c8fc"/><rect x="441.8" y="215.8" width="2" height="1" fill="#c8c8fc"/><rect x="444.8" y="215.8" width="1" height="1" fill="#c8c8fc"/><rect x="486.8" y="215.8" width="1" height="1" fill="#c8c8fc"/><rect x="374.8" y="216.8" width="2" height="1" fill="#afaffa"/><rect x="379.8" y="216.8" width="1" height="1" fill="#7878f5"/><rect x="391.8" y="216.8" width="1" height="1" fill="#afaffa"/><rect x="392.8" y="216.8" width="1" height="1" fill="#9696fa"/><rect x="394.8" y="216.8" width="1" height="1" fill="#c8c8fc"/><rect x="406.8" y="216.8" width="2" height="1" fill="#c8c8fc"/><rect x="414.8" y="216.8" width="1" height="1" fill="#d7d7fd"/><rect x="422.8" y="216.8" width="2" height="1" fill="#afaffa"/><rect x="430.8" y="216.8" width="1" height="1" fill="#7878f5"/><rect x="444.8" y="216.8" width="1" height="1" fill="#afaffa"/><rect x="480.8" y="216.8" width="2" height="1" fill="#afaffa"/></g></g>
<rect x="373.8" y="172.8" width="113.5" height="45.4" fill="none" stroke="#000" stroke-width="1.3"/>
<line x1="369.6" y1="172.8" x2="373.8" y2="172.8" stroke="#000" stroke-width="1.1"/>
<text x="366.4" y="178.1" text-anchor="end" style="font-family:&quot;Liberation Serif&quot;,serif;font-size:14px">0.2</text>
<line x1="369.6" y1="195.5" x2="373.8" y2="195.5" stroke="#000" stroke-width="1.1"/>
<text x="366.4" y="199.8" text-anchor="end" style="font-family:&quot;Liberation Serif&quot;,serif;font-size:14px">0.0</text>
<line x1="369.6" y1="218.2" x2="373.8" y2="218.2" stroke="#000" stroke-width="1.1"/>
<text x="366.4" y="222.7" text-anchor="end" style="font-family:&quot;Liberation Serif&quot;,serif;font-size:14px">0.2</text>
<line x1="339.4" y1="219.1" x2="347.1" y2="219.1" stroke="#000" stroke-width="0.9"/>
<line x1="373.7" y1="218.2" x2="373.7" y2="222.4" stroke="#000" stroke-width="1.1"/>
<text x="386.9" y="236.1" text-anchor="end" style="font-family:&quot;Liberation Serif&quot;,serif;font-size:14px">0.5</text>
<line x1="361.4" y1="231.6" x2="369.2" y2="231.6" stroke="#000" stroke-width="0.9"/>
<line x1="430.5" y1="218.2" x2="430.5" y2="222.4" stroke="#000" stroke-width="1.1"/>
<text x="430.5" y="236.1" text-anchor="middle" style="font-family:&quot;Liberation Serif&quot;,serif;font-size:14px">0.0</text>
<line x1="487.3" y1="218.2" x2="487.3" y2="222.4" stroke="#000" stroke-width="1.1"/>
<text x="487.3" y="236.1" text-anchor="middle" style="font-family:&quot;Liberation Serif&quot;,serif;font-size:14px">0.5</text>
<text x="430.5" y="168" text-anchor="middle" style="font-family:&quot;Liberation Serif&quot;,serif;font-size:13.5px">z [mm]</text>
<text transform="translate(502.3,195.2) rotate(-90)" text-anchor="middle" style="font-family:&quot;Liberation Serif&quot;,serif;font-size:13.5px">y [mm]</text>
<line x1="154" y1="227.8" x2="154" y2="270.6" stroke="#000" stroke-width="2.3" />
<line x1="154" y1="330.5" x2="154" y2="373.4" stroke="#000" stroke-width="2.3" />
<line x1="213.9" y1="227.8" x2="213.9" y2="270.6" stroke="#000" stroke-width="2.3" />
<line x1="213.9" y1="330.5" x2="213.9" y2="373.4" stroke="#000" stroke-width="2.3" />
<line x1="111" y1="270.6" x2="154" y2="270.6" stroke="#000" stroke-width="2.3" />
<line x1="213.9" y1="270.6" x2="374" y2="270.6" stroke="#000" stroke-width="2.3" />
<line x1="111" y1="330.5" x2="154" y2="330.5" stroke="#000" stroke-width="2.3" />
<line x1="213.9" y1="330.5" x2="374" y2="330.5" stroke="#000" stroke-width="2.3" />
<rect x="140.1" y="212.4" width="85.8" height="15.4" fill="#000"/>
<rect x="142.2" y="214.7" width="81.8" height="4" fill="#fff"/>
<rect x="142.2" y="221.8" width="81.8" height="3.9" fill="#fff"/>
<rect x="140.1" y="373.2" width="85.8" height="16" fill="#000"/>
<rect x="142.2" y="375.3" width="81.8" height="3.9" fill="#fff"/>
<rect x="142.2" y="381.9" width="81.8" height="4.9" fill="#fff"/>
<rect x="96.3" y="257.3" width="15.7" height="86.2" fill="#000"/>
<rect x="98.3" y="259.6" width="3.9" height="81.6" fill="#fff"/>
<rect x="104.6" y="259.6" width="5.6" height="81.6" fill="#fff"/>
<rect x="373.1" y="256.8" width="15" height="85.4" fill="#000"/>
<rect x="375" y="258.9" width="4.1" height="81.2" fill="#fff"/>
<rect x="381.6" y="258.9" width="4.6" height="81.2" fill="#fff"/>
<path d="M192.2 277.8 H380 M192.2 323.3 H380 M192.2 277.8 V323.3" fill="none" stroke="#000" stroke-width="2" stroke-dasharray="2,2.5"/>
<circle cx="183.7" cy="300.2" r="42" fill="#fff" stroke="#000" stroke-width="2.7"/>
<circle cx="184.5" cy="299.4" r="29.3" fill="#e2e2e2" stroke="#3f68aa" stroke-width="1.05" stroke-dasharray="2,1.25"/>
<clipPath id="cc"><circle cx="183.7" cy="300.2" r="40.6"/></clipPath>
<path clip-path="url(#cc)" d="M192.2 277.8 H380 M192.2 323.3 H380 M192.2 277.8 V323.3" fill="none" stroke="#000" stroke-width="2" stroke-dasharray="2,2.5"/>
<rect x="178.3" y="283.4" width="2" height="36" fill="#222"/>
<rect x="233.9" y="280.85" width="8.8" height="2.7" fill="#000"/>
<rect x="245.9" y="280.85" width="8.8" height="2.7" fill="#000"/>
<rect x="258.0" y="280.85" width="8.8" height="2.7" fill="#000"/>
<rect x="302.7" y="280.85" width="8.8" height="2.7" fill="#000"/>
<rect x="314.7" y="280.85" width="8.8" height="2.7" fill="#000"/>
<rect x="326.8" y="280.85" width="8.8" height="2.7" fill="#000"/>
<rect x="233.9" y="317.05" width="8.8" height="2.7" fill="#000"/>
<rect x="245.9" y="317.05" width="8.8" height="2.7" fill="#000"/>
<rect x="258.0" y="317.05" width="8.8" height="2.7" fill="#000"/>
<rect x="302.7" y="317.05" width="8.8" height="2.7" fill="#000"/>
<rect x="314.7" y="317.05" width="8.8" height="2.7" fill="#000"/>
<rect x="326.8" y="317.05" width="8.8" height="2.7" fill="#000"/>
<rect x="378" y="289" width="5.8" height="23.8" fill="#000"/>
<rect x="175" y="241.9" width="20.3" height="12" fill="#7f7f7f"/>
<rect x="175" y="253.8" width="20.3" height="8.6" fill="#fff"/>
<path d="M175 253.8 H195.3 V261.3 H192.6 C190 258.6 187.5 258.1 185.2 258.1 C182.9 258.1 180.4 258.6 177.8 261.3 H175 Z" fill="#ffc000"/>
<line x1="177.7" y1="261" x2="191.4" y2="353.1" stroke="#e8700f" stroke-width="1.6" />
<line x1="191.7" y1="261" x2="178.1" y2="353.8" stroke="#e8700f" stroke-width="1.6" />
<line x1="84.3" y1="239.4" x2="175.9" y2="257.8" stroke="#4472c4" stroke-width="1" />
<line x1="383" y1="302.4" x2="403.7" y2="342" stroke="#4472c4" stroke-width="1" />
<rect x="65.3" y="292.8" width="29.8" height="17.9" fill="#4f81bd"/>
<line x1="23.1" y1="301.6" x2="65.5" y2="301.6" stroke="#000" stroke-width="2.5" />
<path d="M34.7 295.4 H54.7 L44.7 309 Z" fill="#000" stroke="#000" stroke-width="0.8" stroke-linejoin="round"/>
<rect x="400.7" y="288.7" width="48.1" height="24.8" fill="#d9d9d9"/>
<text x="41.5" y="232.1" text-anchor="start" style="font-family:&quot;Liberation Sans&quot;,sans-serif;font-size:14px;letter-spacing:0.1px">mid-IR mirror</text>
<text x="56.3" y="276" text-anchor="start" style="font-family:&quot;Liberation Sans&quot;,sans-serif;font-size:14px;letter-spacing:0.6px">PM</text>
<text x="25.8" y="330.1" text-anchor="start" style="font-family:&quot;Liberation Sans&quot;,sans-serif;font-size:14px">NV</text>
<text x="164.8" y="304" text-anchor="start" style="font-family:&quot;Liberation Sans&quot;,sans-serif;font-size:14px">R</text>
<text x="198.3" y="304.5" text-anchor="start" style="font-family:&quot;Liberation Sans&quot;,sans-serif;font-size:14px">E</text>
<text x="242.9" y="305.2" text-anchor="start" style="font-family:&quot;Liberation Sans&quot;,sans-serif;font-size:14px">L1</text>
<text x="312.9" y="305.5" text-anchor="start" style="font-family:&quot;Liberation Sans&quot;,sans-serif;font-size:14px">L2</text>
<text x="277.5" y="356.4" text-anchor="start" style="font-family:&quot;Liberation Sans&quot;,sans-serif;font-size:14px">IM</text>
<text x="411" y="306" text-anchor="start" style="font-family:&quot;Liberation Sans&quot;,sans-serif;font-size:14px">CCD</text>
<text x="420.1" y="348.2" text-anchor="start" style="font-family:&quot;Liberation Sans&quot;,sans-serif;font-size:14px">MCP and</text>
<text x="400.8" y="365.8" text-anchor="start" style="font-family:&quot;Liberation Sans&quot;,sans-serif;font-size:14px;letter-spacing:0.2px">phosphor screen</text>
</svg>
</body></html>
